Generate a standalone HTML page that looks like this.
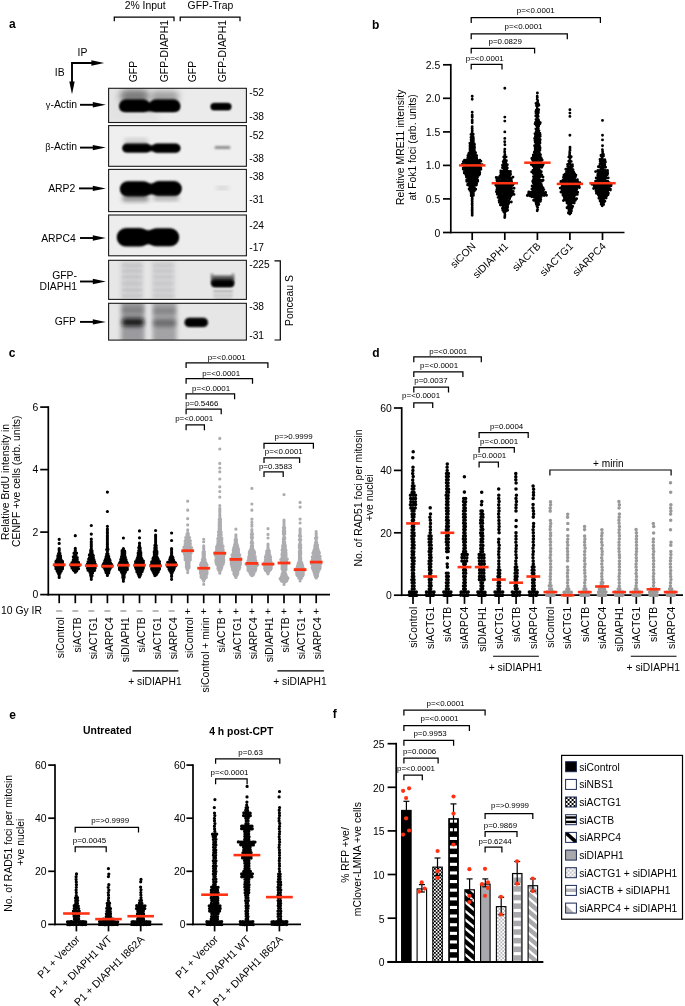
<!DOCTYPE html>
<html lang="en"><head><meta charset="utf-8"><title>Figure</title>
<style>html,body{margin:0;padding:0;background:#fff}svg{display:block}text{font-family:"Liberation Sans", sans-serif;fill:#000}</style>
</head><body>
<svg width="685" height="1006" viewBox="0 0 685 1006">
<defs>
<filter id="b1" x="-20%" y="-50%" width="140%" height="200%"><feGaussianBlur stdDeviation="1.3"/></filter>
<filter id="b2" x="-20%" y="-50%" width="140%" height="200%"><feGaussianBlur stdDeviation="2.2"/></filter>
<filter id="b3" x="-30%" y="-50%" width="160%" height="200%"><feGaussianBlur stdDeviation="3.2"/></filter>
<filter id="b0" x="-20%" y="-50%" width="140%" height="200%"><feGaussianBlur stdDeviation="0.8"/></filter>
<pattern id="chk" width="3.5" height="3.5" patternUnits="userSpaceOnUse"><rect width="3.5" height="3.5" fill="#fff"/><rect width="1.75" height="1.75" fill="#000"/><rect x="1.75" y="1.75" width="1.75" height="1.75" fill="#000"/></pattern>
<pattern id="chkL" width="4" height="4" patternUnits="userSpaceOnUse" x="565.6" y="797"><rect width="4" height="4" fill="#fff"/><rect width="2" height="2" fill="#000"/><rect x="2" y="2" width="2" height="2" fill="#000"/></pattern>
<pattern id="chkgL" width="4" height="4" patternUnits="userSpaceOnUse" x="565.6" y="867.7"><rect width="4" height="4" fill="#fff"/><rect width="2" height="2" fill="#c4c4c8"/><rect x="2" y="2" width="2" height="2" fill="#c4c4c8"/></pattern>
<pattern id="chkg" width="3.5" height="3.5" patternUnits="userSpaceOnUse"><rect width="3.5" height="3.5" fill="#fff"/><rect width="1.75" height="1.75" fill="#b9b9bd"/><rect x="1.75" y="1.75" width="1.75" height="1.75" fill="#b9b9bd"/></pattern>
</defs>
<rect width="685" height="1006" fill="#fff"/>
<text x="9.0" y="28.3" font-size="12" font-weight="bold">a</text>
<text x="145.2" y="9.0" font-size="10.4" text-anchor="middle">2% Input</text>
<text x="210.5" y="9.0" font-size="10.4" text-anchor="middle">GFP-Trap</text>
<path d="M114.3 21.2V17.0H174.0V21.2" stroke="#000" stroke-width="1.25" fill="none" stroke-linejoin="miter"/>
<path d="M180.2 21.2V17.0H240.0V21.2" stroke="#000" stroke-width="1.25" fill="none" stroke-linejoin="miter"/>
<text transform="translate(137.3 82.3) rotate(-90)" font-size="10.4">GFP</text>
<text transform="translate(167.6 82.3) rotate(-90)" font-size="10.4">GFP-DIAPH1</text>
<text transform="translate(195.6 82.3) rotate(-90)" font-size="10.4">GFP</text>
<text transform="translate(225.6 82.3) rotate(-90)" font-size="10.4">GFP-DIAPH1</text>
<text x="77.6" y="55.8" font-size="10.4">IP</text>
<text x="54.8" y="76.1" font-size="10.4">IB</text>
<path d="M72 83V63H93" stroke="#000" stroke-width="1.9" fill="none"/>
<path d="M104.2 63l-12.8-2.7v5.4z" fill="#000"/>
<path d="M72 94.2l-2.7-12.8h5.4z" fill="#000"/>
<text x="77" y="107.8" font-size="10.4" text-anchor="end"><tspan font-size="9.2">γ</tspan>-Actin</text>
<path d="M80 104.8H94" stroke="#000" stroke-width="1.9" fill="none"/>
<path d="M105.8 104.8l-13-2.7v5.4z" fill="#000"/>
<text x="77" y="150.2" font-size="10.4" text-anchor="end"><tspan font-size="9.2">β</tspan>-Actin</text>
<path d="M80 147.6H94" stroke="#000" stroke-width="1.9" fill="none"/>
<path d="M105.8 147.6l-13-2.7v5.4z" fill="#000"/>
<text x="75.3" y="191.8" font-size="10.4" text-anchor="end">ARP2</text>
<path d="M79 188.4H94" stroke="#000" stroke-width="1.9" fill="none"/>
<path d="M105.8 188.4l-13-2.7v5.4z" fill="#000"/>
<text x="75.8" y="241.5" font-size="10.4" text-anchor="end">ARPC4</text>
<path d="M80 238.0H94" stroke="#000" stroke-width="1.9" fill="none"/>
<path d="M105.8 238.0l-13-2.7v5.4z" fill="#000"/>
<path d="M80 281.5H94" stroke="#000" stroke-width="1.9" fill="none"/>
<path d="M105.8 281.5l-13-2.7v5.4z" fill="#000"/>
<text x="76.0" y="325.0" font-size="10.4" text-anchor="end">GFP</text>
<path d="M80 321.9H94" stroke="#000" stroke-width="1.9" fill="none"/>
<path d="M105.8 321.9l-13-2.7v5.4z" fill="#000"/>
<text x="77.0" y="279.0" font-size="10.4" text-anchor="end">GFP-</text>
<text x="77.0" y="290.2" font-size="10.4" text-anchor="end">DIAPH1</text>
<clipPath id="cb0"><rect x="108.6" y="88.3" width="137.8" height="34.2"/></clipPath>
<rect x="108.6" y="88.3" width="137.8" height="34.2" fill="#ebebeb"/>
<g clip-path="url(#cb0)">
<rect x="108.6" y="88.3" width="50" height="34.2" fill="#dcdcdc" opacity=".6" filter="url(#b3)"/>
<rect x="120.0" y="89.5" width="29.0" height="13.0" rx="6.5" fill="#444" opacity="0.65" filter="url(#b3)"/>
<rect x="151.0" y="91.0" width="28.0" height="11.0" rx="5.5" fill="#555" opacity="0.5" filter="url(#b3)"/>
<rect x="119.5" y="99.2" width="30.0" height="12.5" rx="6.2" fill="#050505" opacity="1" filter="url(#b1)"/>
<rect x="149.5" y="99.3" width="30.5" height="12.5" rx="6.2" fill="#050505" opacity="1" filter="url(#b1)"/>
<rect x="119.5" y="102.5" width="60.5" height="9.0" rx="4.5" fill="#050505" opacity="1" filter="url(#b1)"/>
<rect x="211.0" y="103.6" width="20.0" height="6.2" rx="3.1" fill="#050505" opacity="1" filter="url(#b0)"/>
<rect x="211.0" y="103.6" width="20.0" height="6.2" rx="3.1" fill="#050505" opacity="1" filter="url(#b1)"/>
</g>
<rect x="108.6" y="88.3" width="137.8" height="34.2" fill="none" stroke="#1a1a1a" stroke-width="1.1"/>
<clipPath id="cb1"><rect x="108.6" y="125.6" width="137.8" height="40.7"/></clipPath>
<rect x="108.6" y="125.6" width="137.8" height="40.7" fill="#efefef"/>
<g clip-path="url(#cb1)">
<rect x="122.5" y="143.3" width="28.0" height="9.3" rx="4.7" fill="#050505" opacity="1" filter="url(#b1)"/>
<rect x="152.5" y="143.5" width="27.5" height="9.3" rx="4.7" fill="#050505" opacity="1" filter="url(#b1)"/>
<rect x="123.0" y="145.3" width="57.0" height="6.0" rx="3.0" fill="#050505" opacity="1" filter="url(#b1)"/>
<rect x="124.0" y="138.5" width="24.0" height="5.0" rx="2.5" fill="#888" opacity="0.35" filter="url(#b2)"/>
<rect x="214.5" y="146.0" width="16.0" height="3.0" rx="1.5" fill="#777" opacity="0.8" filter="url(#b1)"/>
</g>
<rect x="108.6" y="125.6" width="137.8" height="40.7" fill="none" stroke="#1a1a1a" stroke-width="1.1"/>
<clipPath id="cb2"><rect x="108.6" y="169.4" width="137.8" height="42.2"/></clipPath>
<rect x="108.6" y="169.4" width="137.8" height="42.2" fill="#efefef"/>
<g clip-path="url(#cb2)">
<rect x="120.0" y="181.2" width="31.0" height="15.5" rx="7.8" fill="#050505" opacity="1" filter="url(#b1)"/>
<rect x="151.5" y="181.1" width="30.0" height="15.0" rx="7.5" fill="#050505" opacity="1" filter="url(#b1)"/>
<rect x="121.0" y="183.5" width="60.0" height="11.0" rx="5.5" fill="#050505" opacity="1" filter="url(#b1)"/>
<rect x="122.0" y="195.5" width="27.0" height="6.0" rx="3.0" fill="#333" opacity="0.5" filter="url(#b2)"/>
<rect x="153.0" y="195.5" width="26.0" height="5.0" rx="2.5" fill="#444" opacity="0.4" filter="url(#b2)"/>
<rect x="216.0" y="186.5" width="13.0" height="3.0" rx="1.5" fill="#aaa" opacity="0.5" filter="url(#b2)"/>
</g>
<rect x="108.6" y="169.4" width="137.8" height="42.2" fill="none" stroke="#1a1a1a" stroke-width="1.1"/>
<clipPath id="cb3"><rect x="108.6" y="215" width="137.8" height="40.8"/></clipPath>
<rect x="108.6" y="215" width="137.8" height="40.8" fill="#ededed"/>
<g clip-path="url(#cb3)">
<rect x="117.0" y="228.1" width="32.0" height="18.5" rx="9.2" fill="#050505" opacity="1" filter="url(#b1)"/>
<rect x="147.5" y="228.3" width="31.5" height="18.0" rx="9.0" fill="#050505" opacity="1" filter="url(#b1)"/>
<rect x="118.0" y="230.3" width="60.0" height="14.0" rx="7.0" fill="#050505" opacity="1" filter="url(#b1)"/>
</g>
<rect x="108.6" y="215" width="137.8" height="40.8" fill="none" stroke="#1a1a1a" stroke-width="1.1"/>
<clipPath id="cb4"><rect x="108.6" y="260.3" width="137.8" height="39.1"/></clipPath>
<rect x="108.6" y="260.3" width="137.8" height="39.1" fill="#e7e7e7"/>
<g clip-path="url(#cb4)">
<rect x="121" y="260.3" width="22" height="39.1" fill="#c9c9cc" opacity=".8" filter="url(#b2)"/>
<rect x="152" y="260.3" width="22.5" height="39.1" fill="#cbcbce" opacity=".8" filter="url(#b2)"/>
<rect x="122.0" y="264.6" width="20.5" height="1.8" rx="0.9" fill="#b4b4b8" opacity="0.45" filter="url(#b1)"/>
<rect x="153.0" y="264.6" width="21.0" height="1.8" rx="0.9" fill="#b8b8bc" opacity="0.4" filter="url(#b1)"/>
<rect x="122.0" y="270.1" width="20.5" height="1.8" rx="0.9" fill="#b4b4b8" opacity="0.45" filter="url(#b1)"/>
<rect x="153.0" y="270.1" width="21.0" height="1.8" rx="0.9" fill="#b8b8bc" opacity="0.4" filter="url(#b1)"/>
<rect x="122.0" y="276.1" width="20.5" height="1.8" rx="0.9" fill="#b4b4b8" opacity="0.45" filter="url(#b1)"/>
<rect x="153.0" y="276.1" width="21.0" height="1.8" rx="0.9" fill="#b8b8bc" opacity="0.4" filter="url(#b1)"/>
<rect x="122.0" y="282.6" width="20.5" height="1.8" rx="0.9" fill="#b4b4b8" opacity="0.45" filter="url(#b1)"/>
<rect x="153.0" y="282.6" width="21.0" height="1.8" rx="0.9" fill="#b8b8bc" opacity="0.4" filter="url(#b1)"/>
<rect x="122.0" y="289.1" width="20.5" height="1.8" rx="0.9" fill="#b4b4b8" opacity="0.45" filter="url(#b1)"/>
<rect x="153.0" y="289.1" width="21.0" height="1.8" rx="0.9" fill="#b8b8bc" opacity="0.4" filter="url(#b1)"/>
<rect x="122.0" y="295.1" width="20.5" height="1.8" rx="0.9" fill="#b4b4b8" opacity="0.45" filter="url(#b1)"/>
<rect x="153.0" y="295.1" width="21.0" height="1.8" rx="0.9" fill="#b8b8bc" opacity="0.4" filter="url(#b1)"/>
<rect x="211.0" y="275.5" width="23.3" height="9.0" rx="3.0" fill="#4a4a4a" opacity="0.9" filter="url(#b1)"/>
<rect x="211.3" y="279.6" width="22.7" height="7.5" rx="3.8" fill="#0a0a0a" opacity="1" filter="url(#b1)"/>
<rect x="212.0" y="281.5" width="21.5" height="5.0" rx="2.5" fill="#000" opacity="1" filter="url(#b1)"/>
<rect x="210.5" y="273.0" width="3.0" height="5.0" rx="2.5" fill="#666" opacity="0.6" filter="url(#b1)"/>
<rect x="231.5" y="273.0" width="3.0" height="5.0" rx="2.5" fill="#666" opacity="0.6" filter="url(#b1)"/>
<rect x="213.0" y="290.3" width="20.0" height="2.0" rx="1.0" fill="#9a9a9a" opacity="0.8" filter="url(#b0)"/>
<rect x="213.0" y="294.3" width="20.0" height="2.0" rx="1.0" fill="#b0b0b0" opacity="0.8" filter="url(#b0)"/>
<rect x="214.0" y="297.5" width="18.0" height="2.0" rx="1.0" fill="#bbb" opacity="0.8" filter="url(#b0)"/>
</g>
<rect x="108.6" y="260.3" width="137.8" height="39.1" fill="none" stroke="#1a1a1a" stroke-width="1.1"/>
<clipPath id="cb5"><rect x="108.6" y="303.3" width="137.8" height="36.8"/></clipPath>
<rect x="108.6" y="303.3" width="137.8" height="36.8" fill="#e6e6e6"/>
<g clip-path="url(#cb5)">
<rect x="121" y="300.3" width="23.5" height="42.8" fill="#8e8e92" opacity=".85" filter="url(#b2)"/>
<rect x="152.5" y="300.3" width="24" height="42.8" fill="#97979b" opacity=".85" filter="url(#b2)"/>
<rect x="122.0" y="318.3" width="22.0" height="8.0" rx="4.0" fill="#111" opacity="0.9" filter="url(#b2)"/>
<rect x="153.0" y="319.5" width="23.0" height="7.0" rx="3.5" fill="#444" opacity="0.6" filter="url(#b2)"/>
<rect x="153.0" y="308.0" width="23.0" height="6.0" rx="3.0" fill="#555" opacity="0.4" filter="url(#b2)"/>
<rect x="122.0" y="307.0" width="22.0" height="6.0" rx="3.0" fill="#555" opacity="0.4" filter="url(#b2)"/>
<rect x="184.5" y="317.8" width="23.5" height="9.2" rx="4.6" fill="#0a0a0a" opacity="1" filter="url(#b1)"/>
<rect x="186.0" y="319.6" width="20.5" height="6.0" rx="3.0" fill="#000" opacity="1" filter="url(#b1)"/>
</g>
<rect x="108.6" y="303.3" width="137.8" height="36.8" fill="none" stroke="#1a1a1a" stroke-width="1.1"/>
<text x="249.3" y="96.3" font-size="10.2">-52</text>
<text x="249.3" y="119.5" font-size="10.2">-38</text>
<text x="249.3" y="138.5" font-size="10.2">-52</text>
<text x="249.3" y="161.7" font-size="10.2">-38</text>
<text x="249.3" y="179.7" font-size="10.2">-38</text>
<text x="249.3" y="203.0" font-size="10.2">-31</text>
<text x="249.3" y="228.5" font-size="10.2">-24</text>
<text x="249.3" y="251.3" font-size="10.2">-17</text>
<text x="249.3" y="267.7" font-size="10.2">-225</text>
<text x="249.3" y="309.7" font-size="10.2">-38</text>
<text x="249.3" y="339.1" font-size="10.2">-31</text>
<path d="M274.5 260.8H280.3V340H274.5" stroke="#000" stroke-width="1.2" fill="none"/>
<text transform="translate(293.4 300.5) rotate(-90)" font-size="10.4" text-anchor="middle">Ponceau S</text>
<text x="372.0" y="28.6" font-size="12" font-weight="bold">b</text>
<path d="M450.8 63.9L450.8 233.3" stroke="#000" stroke-width="1.7" stroke-linecap="butt" fill="none"/>
<path d="M443.0 232.5L450.8 232.5" stroke="#000" stroke-width="1.7" stroke-linecap="butt" fill="none"/>
<text x="440.3" y="236.5" font-size="10.4" text-anchor="end">0</text>
<path d="M443.0 198.9L450.8 198.9" stroke="#000" stroke-width="1.7" stroke-linecap="butt" fill="none"/>
<text x="440.3" y="202.9" font-size="10.4" text-anchor="end">0.5</text>
<path d="M443.0 165.4L450.8 165.4" stroke="#000" stroke-width="1.7" stroke-linecap="butt" fill="none"/>
<text x="440.3" y="169.4" font-size="10.4" text-anchor="end">1.0</text>
<path d="M443.0 131.9L450.8 131.9" stroke="#000" stroke-width="1.7" stroke-linecap="butt" fill="none"/>
<text x="440.3" y="135.9" font-size="10.4" text-anchor="end">1.5</text>
<path d="M443.0 98.3L450.8 98.3" stroke="#000" stroke-width="1.7" stroke-linecap="butt" fill="none"/>
<text x="440.3" y="102.3" font-size="10.4" text-anchor="end">2.0</text>
<path d="M443.0 64.8L450.8 64.8" stroke="#000" stroke-width="1.7" stroke-linecap="butt" fill="none"/>
<text x="440.3" y="68.8" font-size="10.4" text-anchor="end">2.5</text>
<path d="M450.1 232.5L624.5 232.5" stroke="#000" stroke-width="1.7" stroke-linecap="butt" fill="none"/>
<path d="M472.2 232.5L472.2 240.0" stroke="#000" stroke-width="1.7" stroke-linecap="butt" fill="none"/>
<path d="M504.8 232.5L504.8 240.0" stroke="#000" stroke-width="1.7" stroke-linecap="butt" fill="none"/>
<path d="M537.4 232.5L537.4 240.0" stroke="#000" stroke-width="1.7" stroke-linecap="butt" fill="none"/>
<path d="M569.9 232.5L569.9 240.0" stroke="#000" stroke-width="1.7" stroke-linecap="butt" fill="none"/>
<path d="M602.5 232.5L602.5 240.0" stroke="#000" stroke-width="1.7" stroke-linecap="butt" fill="none"/>
<text transform="translate(403.8 147.3) rotate(-90)" font-size="10.4" text-anchor="middle">Relative MRE11 intensity</text>
<text transform="translate(415.8 147.3) rotate(-90)" font-size="10.4" text-anchor="middle">at Fok1 foci (arb. units)</text>
<text transform="translate(476.2 246.9) rotate(-45)" font-size="10.4" text-anchor="end">siCON</text>
<text transform="translate(508.8 246.9) rotate(-45)" font-size="10.4" text-anchor="end">siDIAPH1</text>
<text transform="translate(541.4 246.9) rotate(-45)" font-size="10.4" text-anchor="end">siACTB</text>
<text transform="translate(573.9 246.9) rotate(-45)" font-size="10.4" text-anchor="end">siACTG1</text>
<text transform="translate(606.5 246.9) rotate(-45)" font-size="10.4" text-anchor="end">siARPC4</text>
<path d="M472.2 215.2h0M472.2 213.6h0M472.2 212.0h0M472.1 210.8h0M472.2 209.5h0M472.2 209.0h0M472.2 207.7h0M472.2 205.6h0M472.1 204.5h0M472.2 203.5h0M472.2 202.1h0M472.1 200.9h0M472.2 199.3h0M472.2 198.4h0M472.2 196.6h0M471.2 195.8h0M473.4 195.4h0M471.2 193.9h0M473.4 194.2h0M471.1 192.5h0M473.3 193.1h0M471.2 191.7h0M473.4 192.0h0M470.0 190.4h0M472.2 190.3h0M474.4 190.7h0M469.1 189.0h0M471.3 189.2h0M473.5 188.7h0M475.7 189.2h0M470.1 187.6h0M472.3 187.7h0M474.5 187.9h0M469.8 186.4h0M472.0 186.2h0M474.2 186.1h0M467.6 184.9h0M469.8 185.1h0M472.0 185.5h0M474.2 184.8h0M476.4 185.1h0M467.8 184.2h0M470.0 184.1h0M472.2 184.2h0M474.4 183.7h0M476.6 183.8h0M469.2 182.2h0M471.4 182.3h0M473.6 182.3h0M475.8 182.3h0M466.7 181.3h0M468.9 181.0h0M471.1 180.8h0M473.3 181.2h0M475.5 181.1h0M477.7 181.3h0M466.7 180.1h0M468.9 180.1h0M471.1 179.6h0M473.3 180.3h0M475.5 180.2h0M477.7 180.3h0M468.0 178.6h0M470.2 178.6h0M472.4 178.3h0M474.6 178.8h0M476.8 178.3h0M466.5 177.2h0M468.7 177.0h0M470.9 176.9h0M473.1 177.0h0M475.3 177.0h0M477.5 177.2h0M466.4 176.4h0M468.6 176.2h0M470.8 175.7h0M473.0 175.8h0M475.2 175.9h0M477.4 175.9h0M465.9 174.7h0M468.1 174.7h0M470.3 174.4h0M472.5 174.4h0M474.7 174.6h0M476.9 174.5h0M479.1 175.0h0M464.3 173.0h0M466.5 173.9h0M468.7 173.5h0M470.9 173.1h0M473.1 173.5h0M475.3 173.0h0M477.5 173.5h0M479.7 173.9h0M464.4 172.0h0M466.6 171.9h0M468.8 172.4h0M471.0 172.2h0M473.2 172.4h0M475.4 172.0h0M477.6 171.9h0M479.8 172.4h0M465.9 171.2h0M468.1 171.1h0M470.3 171.1h0M472.5 171.1h0M474.7 170.6h0M476.9 170.9h0M479.1 170.7h0M463.3 169.3h0M465.5 169.7h0M467.7 170.0h0M469.9 169.5h0M472.1 169.9h0M474.3 170.0h0M476.5 170.0h0M478.7 169.4h0M480.9 169.3h0M463.2 168.0h0M465.4 168.0h0M467.6 168.4h0M469.8 168.6h0M472.0 168.6h0M474.2 168.2h0M476.4 168.4h0M478.6 168.5h0M480.8 167.9h0M464.7 167.2h0M466.9 166.9h0M469.1 166.7h0M471.3 167.2h0M473.5 166.8h0M475.7 167.2h0M477.9 167.4h0M480.1 166.9h0M464.4 166.1h0M466.6 165.9h0M468.8 165.4h0M471.0 165.3h0M473.2 165.3h0M475.4 166.0h0M477.6 165.9h0M479.8 165.3h0M462.4 164.2h0M464.6 164.4h0M466.8 164.0h0M469.0 163.9h0M471.2 164.8h0M473.4 164.5h0M475.6 164.4h0M477.8 164.7h0M480.0 164.3h0M482.2 164.7h0M465.8 162.8h0M468.0 162.8h0M470.2 162.9h0M472.4 162.8h0M474.6 163.1h0M476.8 162.8h0M479.0 163.0h0M463.3 161.7h0M465.5 161.8h0M467.7 162.1h0M469.9 161.7h0M472.1 162.1h0M474.3 161.8h0M476.5 161.8h0M478.7 161.8h0M480.9 161.3h0M464.5 160.2h0M466.7 160.0h0M468.9 160.7h0M471.1 160.2h0M473.3 160.4h0M475.5 160.7h0M477.7 160.5h0M479.9 160.3h0M468.0 158.8h0M470.2 159.2h0M472.4 158.9h0M474.6 159.0h0M476.8 159.4h0M467.8 157.9h0M470.0 158.1h0M472.2 158.2h0M474.4 157.8h0M476.6 158.0h0M469.0 156.5h0M471.2 156.6h0M473.4 156.5h0M475.6 157.0h0M467.9 155.6h0M470.1 155.7h0M472.3 155.0h0M474.5 155.3h0M476.7 155.7h0M468.7 153.9h0M470.9 153.6h0M473.1 153.7h0M475.3 153.6h0M469.0 152.9h0M471.2 153.0h0M473.4 152.3h0M475.6 152.8h0M470.2 151.8h0M472.4 151.1h0M474.6 151.8h0M470.0 150.0h0M472.2 150.5h0M474.4 150.4h0M470.0 148.6h0M472.2 148.5h0M474.4 148.6h0M470.1 147.0h0M472.3 147.5h0M474.5 147.4h0M470.0 146.2h0M472.2 145.8h0M474.4 146.6h0M470.1 145.3h0M472.3 144.5h0M474.5 144.6h0M469.9 143.2h0M472.1 143.5h0M474.3 143.9h0M471.2 142.0h0M473.4 141.9h0M471.2 140.6h0M473.4 140.6h0M471.1 139.6h0M473.3 139.3h0M471.2 138.0h0M473.4 138.7h0M471.0 137.4h0M473.2 137.0h0M472.3 135.5h0M471.0 134.5h0M473.2 134.2h0M472.1 132.9h0M472.2 131.7h0M472.2 130.6h0M472.2 128.8h0M472.1 128.2h0M472.2 126.6h0M472.2 122.7h0M472.2 121.9h0M472.2 120.3h0M472.2 117.2h0M472.2 116.0h0M472.2 115.3h0M472.2 112.2h0M472.2 99.3h0M472.2 96.3h0" stroke="#000" stroke-width="2.9" stroke-linecap="round" fill="none"/>
<path d="M504.7 217.6h0M504.8 216.2h0M504.9 215.0h0M504.7 212.9h0M503.8 211.7h0M506.2 211.1h0M502.8 210.3h0M505.2 210.1h0M507.6 210.2h0M502.4 208.4h0M504.8 208.7h0M507.2 208.7h0M502.9 207.0h0M505.3 207.2h0M507.7 207.1h0M500.4 205.0h0M502.8 205.2h0M505.2 205.0h0M507.6 205.6h0M501.3 203.9h0M503.7 203.9h0M506.1 204.0h0M508.5 203.8h0M499.3 202.2h0M501.7 202.3h0M504.1 202.4h0M506.5 201.8h0M508.9 202.5h0M511.3 202.0h0M499.1 200.5h0M501.5 200.9h0M503.9 200.4h0M506.3 200.9h0M508.7 201.1h0M500.0 199.3h0M502.4 199.4h0M504.8 199.2h0M507.2 199.3h0M509.6 198.8h0M498.1 197.4h0M500.5 197.8h0M502.9 197.4h0M505.3 197.6h0M507.7 197.1h0M510.1 197.2h0M499.2 196.2h0M501.6 195.8h0M504.0 196.1h0M506.4 196.0h0M508.8 196.0h0M511.2 195.7h0M497.2 194.2h0M499.6 194.9h0M502.0 194.9h0M504.4 194.1h0M506.8 194.5h0M509.2 194.8h0M511.6 194.9h0M514.0 194.4h0M498.5 192.7h0M500.9 193.0h0M503.3 192.6h0M505.7 193.0h0M508.1 193.3h0M510.5 192.6h0M512.9 193.2h0M496.4 191.7h0M498.8 191.6h0M501.2 191.1h0M503.6 191.7h0M506.0 191.4h0M508.4 191.0h0M510.8 190.9h0M513.2 191.4h0M496.9 189.7h0M499.3 189.7h0M501.7 190.1h0M504.1 189.4h0M506.5 190.1h0M508.9 190.1h0M511.3 189.5h0M497.3 188.5h0M499.7 188.6h0M502.1 188.1h0M504.5 188.2h0M506.9 188.2h0M509.3 188.7h0M511.7 188.4h0M514.1 188.2h0M496.7 186.4h0M499.1 187.0h0M501.5 186.5h0M503.9 187.1h0M506.3 186.5h0M508.7 186.5h0M511.1 186.7h0M495.8 185.1h0M498.2 185.6h0M500.6 185.5h0M503.0 185.5h0M505.4 185.3h0M507.8 185.6h0M510.2 185.6h0M512.6 185.2h0M496.9 183.6h0M499.3 183.9h0M501.7 183.8h0M504.1 183.4h0M506.5 183.2h0M508.9 184.0h0M511.3 183.3h0M513.7 183.6h0M497.3 181.9h0M499.7 182.3h0M502.1 182.5h0M504.5 181.9h0M506.9 182.2h0M509.3 181.9h0M511.7 182.1h0M496.9 180.3h0M499.3 180.9h0M501.7 180.5h0M504.1 180.3h0M506.5 180.9h0M508.9 181.0h0M511.3 180.5h0M496.9 178.7h0M499.3 178.6h0M501.7 178.8h0M504.1 178.6h0M506.5 178.8h0M508.9 178.8h0M511.3 179.1h0M496.2 177.4h0M498.6 177.5h0M501.0 177.3h0M503.4 177.3h0M505.8 177.0h0M508.2 177.2h0M510.6 177.9h0M513.0 177.1h0M500.0 176.0h0M502.4 176.2h0M504.8 175.6h0M507.2 175.7h0M509.6 175.7h0M500.9 174.7h0M503.3 174.7h0M505.7 173.9h0M508.1 173.9h0M510.5 174.5h0M500.8 172.8h0M503.2 172.9h0M505.6 172.3h0M508.0 172.7h0M510.4 173.2h0M500.8 171.0h0M503.2 170.9h0M505.6 170.9h0M508.0 171.3h0M510.4 171.4h0M504.3 169.9h0M506.7 169.8h0M502.5 167.7h0M504.9 168.4h0M507.3 167.9h0M504.1 166.7h0M506.5 166.4h0M502.5 165.2h0M504.9 164.7h0M507.3 164.7h0M503.6 163.6h0M506.0 163.4h0M503.2 161.8h0M505.6 161.9h0M504.0 160.5h0M506.4 160.7h0M504.6 159.3h0M503.7 157.1h0M506.1 156.9h0M504.7 155.5h0M504.9 154.6h0M504.7 152.6h0M504.7 151.4h0M504.8 149.3h0M504.9 144.7h0M504.7 141.7h0M504.8 138.4h0M504.8 88.2h0M504.8 117.1h0M504.8 121.1h0M504.8 131.9h0" stroke="#000" stroke-width="2.9" stroke-linecap="round" fill="none"/>
<path d="M537.2 210.7h0M537.6 209.6h0M537.7 207.6h0M537.1 206.6h0M536.4 204.5h0M538.8 204.5h0M536.0 202.8h0M538.4 202.6h0M535.6 201.2h0M538.0 201.9h0M540.4 201.3h0M533.6 200.3h0M536.0 200.3h0M538.4 199.9h0M540.8 199.6h0M535.7 198.1h0M538.1 198.3h0M540.5 198.8h0M531.7 196.8h0M534.1 197.2h0M536.5 197.1h0M538.9 196.5h0M541.3 196.5h0M527.3 195.5h0M529.7 195.7h0M532.1 195.2h0M534.5 195.1h0M536.9 195.7h0M539.3 195.4h0M541.7 195.1h0M544.1 195.5h0M546.5 195.2h0M528.6 193.3h0M531.0 194.0h0M533.4 194.1h0M535.8 193.9h0M538.2 194.2h0M540.6 193.3h0M543.0 193.5h0M545.4 193.7h0M528.8 192.0h0M531.2 192.2h0M533.6 192.2h0M536.0 192.6h0M538.4 191.9h0M540.8 192.5h0M543.2 192.4h0M545.6 192.5h0M533.1 190.8h0M535.5 190.5h0M537.9 190.5h0M540.3 190.5h0M542.7 190.9h0M531.9 188.9h0M534.3 188.7h0M536.7 188.7h0M539.1 189.2h0M541.5 189.0h0M543.9 189.6h0M533.4 188.0h0M535.8 187.4h0M538.2 187.2h0M540.6 187.2h0M543.0 187.6h0M532.1 185.9h0M534.5 186.1h0M536.9 186.2h0M539.3 186.2h0M541.7 186.3h0M534.1 184.1h0M536.5 184.8h0M538.9 184.3h0M541.3 184.5h0M533.2 182.7h0M535.6 182.7h0M538.0 182.6h0M540.4 183.3h0M532.7 181.2h0M535.1 181.3h0M537.5 181.8h0M539.9 181.4h0M542.3 181.1h0M533.5 179.5h0M535.9 179.8h0M538.3 180.1h0M540.7 180.1h0M543.1 180.2h0M534.2 178.1h0M536.6 177.9h0M539.0 178.0h0M533.4 176.6h0M535.8 177.0h0M538.2 176.7h0M540.6 176.5h0M543.0 177.0h0M534.6 174.8h0M537.0 175.3h0M539.4 175.3h0M541.8 174.9h0M533.3 173.4h0M535.7 173.7h0M538.1 173.8h0M540.5 173.4h0M531.7 171.9h0M534.1 172.2h0M536.5 171.8h0M538.9 171.9h0M541.3 171.8h0M533.0 170.2h0M535.4 170.4h0M537.8 170.6h0M540.2 170.6h0M534.3 168.7h0M536.7 169.1h0M539.1 168.9h0M534.6 167.3h0M537.0 167.5h0M539.4 167.3h0M541.8 167.3h0M533.2 166.3h0M535.6 165.7h0M538.0 165.6h0M540.4 166.1h0M542.8 165.6h0M531.3 164.6h0M533.7 164.2h0M536.1 164.7h0M538.5 164.3h0M540.9 164.0h0M543.3 163.9h0M533.9 162.9h0M536.3 163.1h0M538.7 162.4h0M541.1 162.9h0M533.2 161.0h0M535.6 161.2h0M538.0 161.6h0M540.4 160.9h0M532.6 159.9h0M535.0 160.1h0M537.4 159.4h0M539.8 159.3h0M542.2 160.1h0M531.8 158.5h0M534.2 158.0h0M536.6 158.5h0M539.0 158.2h0M541.4 158.4h0M533.2 156.8h0M535.6 156.3h0M538.0 156.5h0M540.4 156.9h0M533.3 154.9h0M535.7 155.0h0M538.1 154.9h0M540.5 154.7h0M534.6 153.7h0M537.0 153.8h0M539.4 153.1h0M534.3 152.2h0M536.7 151.6h0M539.1 152.0h0M535.1 150.5h0M537.5 150.2h0M539.9 150.3h0M535.2 148.8h0M537.6 148.8h0M540.0 148.4h0M535.2 147.3h0M537.6 147.0h0M540.0 147.5h0M534.6 145.7h0M537.0 145.4h0M539.4 145.4h0M536.1 143.8h0M538.5 144.1h0M535.2 142.2h0M537.6 142.8h0M540.0 142.9h0M535.0 140.7h0M537.4 141.1h0M539.8 141.0h0M535.4 140.0h0M537.8 139.7h0M540.2 139.8h0M534.6 138.4h0M537.0 138.0h0M539.4 138.4h0M535.4 136.8h0M537.8 136.0h0M540.2 136.3h0M535.3 134.6h0M537.7 135.2h0M540.1 134.7h0M535.0 133.7h0M537.4 133.1h0M539.8 133.1h0M536.2 131.6h0M538.6 131.4h0M536.6 130.4h0M539.0 130.6h0M535.9 128.9h0M538.3 128.3h0M537.3 127.5h0M536.3 125.6h0M538.7 125.9h0M535.1 123.9h0M537.5 124.3h0M539.9 123.8h0M535.5 122.5h0M537.9 122.3h0M540.3 122.7h0M536.4 120.5h0M538.8 121.2h0M536.0 119.5h0M538.4 119.8h0M537.2 117.4h0M535.8 116.0h0M538.2 116.4h0M537.7 114.4h0M536.0 113.3h0M538.4 112.7h0M535.9 111.5h0M538.3 111.4h0M536.3 110.2h0M538.7 109.8h0M537.1 108.9h0M537.2 106.7h0M536.5 105.7h0M538.9 105.3h0M536.0 103.4h0M538.4 104.0h0M537.5 102.3h0M537.7 101.0h0M537.2 99.2h0M537.3 97.3h0M537.2 96.2h0M537.4 93.0h0" stroke="#000" stroke-width="2.9" stroke-linecap="round" fill="none"/>
<path d="M569.8 214.0h0M568.4 213.0h0M570.8 212.9h0M569.0 211.3h0M571.4 211.0h0M568.9 209.5h0M571.3 209.3h0M567.0 207.8h0M569.4 208.2h0M571.8 208.2h0M567.9 206.6h0M570.3 206.2h0M572.7 206.5h0M568.7 204.7h0M571.1 205.0h0M567.0 203.1h0M569.4 203.7h0M571.8 202.9h0M574.2 203.1h0M567.1 202.0h0M569.5 201.6h0M571.9 202.1h0M574.3 201.6h0M563.4 200.6h0M565.8 200.3h0M568.2 200.4h0M570.6 200.4h0M573.0 200.7h0M575.4 200.2h0M564.6 198.6h0M567.0 198.9h0M569.4 198.7h0M571.8 198.5h0M574.2 198.4h0M576.6 198.8h0M564.3 197.5h0M566.7 196.8h0M569.1 196.7h0M571.5 196.8h0M573.9 197.5h0M563.0 195.2h0M565.4 195.7h0M567.8 195.7h0M570.2 195.8h0M572.6 195.8h0M575.0 195.2h0M562.9 193.9h0M565.3 194.3h0M567.7 194.3h0M570.1 194.4h0M572.5 193.6h0M574.9 194.4h0M577.3 194.4h0M560.9 192.1h0M563.3 192.1h0M565.7 192.8h0M568.1 192.8h0M570.5 192.6h0M572.9 192.8h0M575.3 192.6h0M577.7 192.3h0M561.9 190.6h0M564.3 191.2h0M566.7 190.7h0M569.1 190.8h0M571.5 190.9h0M573.9 190.5h0M576.3 190.7h0M562.4 189.2h0M564.8 189.8h0M567.2 189.4h0M569.6 189.7h0M572.0 189.5h0M574.4 189.0h0M576.8 189.3h0M560.2 188.1h0M562.6 187.7h0M565.0 188.0h0M567.4 187.9h0M569.8 187.6h0M572.2 188.2h0M574.6 187.5h0M577.0 188.1h0M579.4 187.5h0M562.0 186.7h0M564.4 185.8h0M566.8 186.3h0M569.2 186.3h0M571.6 186.5h0M574.0 186.0h0M576.4 186.3h0M578.8 186.1h0M562.2 184.5h0M564.6 185.1h0M567.0 184.5h0M569.4 184.5h0M571.8 184.9h0M574.2 184.7h0M576.6 184.4h0M579.0 184.8h0M560.7 183.4h0M563.1 183.3h0M565.5 183.0h0M567.9 183.1h0M570.3 183.1h0M572.7 183.5h0M575.1 182.8h0M577.5 183.5h0M579.9 182.7h0M560.9 181.4h0M563.3 182.0h0M565.7 181.6h0M568.1 181.5h0M570.5 182.0h0M572.9 181.4h0M575.3 181.6h0M577.7 181.7h0M563.0 179.9h0M565.4 179.9h0M567.8 179.8h0M570.2 180.4h0M572.6 180.2h0M575.0 180.3h0M577.4 179.8h0M565.0 178.8h0M567.4 178.6h0M569.8 178.2h0M572.2 178.5h0M574.6 178.9h0M563.5 177.2h0M565.9 177.3h0M568.3 176.7h0M570.7 176.7h0M573.1 176.7h0M575.5 176.8h0M563.9 175.1h0M566.3 175.3h0M568.7 175.1h0M571.1 175.9h0M573.5 175.6h0M575.9 175.1h0M564.9 174.3h0M567.3 174.1h0M569.7 174.1h0M572.1 173.8h0M574.5 173.6h0M566.5 172.0h0M568.9 172.1h0M571.3 172.2h0M573.7 171.9h0M567.8 170.8h0M570.2 170.9h0M572.6 170.7h0M565.8 169.3h0M568.2 169.1h0M570.6 169.4h0M573.0 169.6h0M569.0 167.6h0M571.4 167.4h0M567.7 166.5h0M570.1 166.4h0M572.5 166.3h0M567.6 164.5h0M570.0 164.4h0M572.4 164.7h0M569.5 163.0h0M568.8 161.3h0M571.2 161.4h0M569.9 160.0h0M570.2 158.1h0M568.8 157.1h0M571.2 156.7h0M569.6 155.3h0M569.7 154.0h0M569.7 152.2h0M570.0 150.6h0M570.0 149.1h0M570.0 147.3h0M569.9 109.7h0M569.9 113.1h0M569.9 116.4h0M569.9 135.2h0" stroke="#000" stroke-width="2.9" stroke-linecap="round" fill="none"/>
<path d="M602.2 205.7h0M601.2 204.3h0M603.6 204.5h0M601.2 202.6h0M603.6 202.6h0M600.1 201.0h0M602.5 201.5h0M604.9 201.2h0M600.9 199.4h0M603.3 200.0h0M598.9 198.2h0M601.3 197.9h0M603.7 198.6h0M606.1 198.0h0M599.2 196.9h0M601.6 196.9h0M604.0 196.6h0M606.4 196.4h0M598.4 194.9h0M600.8 195.4h0M603.2 194.9h0M605.6 195.0h0M608.0 194.8h0M596.4 193.2h0M598.8 193.1h0M601.2 193.7h0M603.6 193.3h0M606.0 193.3h0M608.4 193.3h0M598.0 192.1h0M600.4 191.8h0M602.8 192.4h0M605.2 192.3h0M607.6 191.6h0M596.0 190.8h0M598.4 190.7h0M600.8 190.1h0M603.2 190.7h0M605.6 190.5h0M608.0 190.0h0M610.4 190.0h0M593.6 188.5h0M596.0 188.5h0M598.4 188.6h0M600.8 189.1h0M603.2 188.7h0M605.6 188.6h0M608.0 189.2h0M610.4 189.1h0M594.6 187.7h0M597.0 187.4h0M599.4 187.6h0M601.8 187.5h0M604.2 187.7h0M606.6 187.6h0M609.0 187.6h0M594.2 186.0h0M596.6 185.7h0M599.0 186.1h0M601.4 185.8h0M603.8 185.6h0M606.2 185.5h0M608.6 185.4h0M611.0 185.8h0M592.0 184.2h0M594.4 183.9h0M596.8 184.2h0M599.2 184.2h0M601.6 184.3h0M604.0 184.5h0M606.4 183.8h0M608.8 184.5h0M611.2 184.2h0M597.2 182.6h0M599.6 182.6h0M602.0 183.1h0M604.4 182.3h0M606.8 182.8h0M609.2 182.8h0M595.6 181.2h0M598.0 181.3h0M600.4 181.5h0M602.8 181.0h0M605.2 181.5h0M607.6 181.1h0M598.0 179.8h0M600.4 179.7h0M602.8 179.4h0M605.2 179.9h0M596.2 178.0h0M598.6 178.0h0M601.0 178.3h0M603.4 177.8h0M605.8 178.0h0M608.2 177.9h0M598.5 176.8h0M600.9 176.4h0M603.3 176.5h0M605.7 176.3h0M597.7 175.3h0M600.1 175.1h0M602.5 175.2h0M604.9 174.8h0M607.3 174.8h0M598.0 173.6h0M600.4 173.0h0M602.8 173.6h0M605.2 173.7h0M607.6 173.4h0M595.6 171.6h0M598.0 171.4h0M600.4 171.5h0M602.8 172.2h0M605.2 171.9h0M607.6 172.0h0M597.9 170.4h0M600.3 170.4h0M602.7 170.4h0M605.1 170.4h0M607.5 170.4h0M600.8 168.9h0M603.2 168.7h0M598.4 166.7h0M600.8 167.4h0M603.2 167.5h0M605.6 167.3h0M599.9 165.9h0M602.3 165.9h0M604.7 165.7h0M600.0 163.9h0M602.4 164.0h0M604.8 164.2h0M600.6 162.1h0M603.0 162.6h0M605.4 162.1h0M600.2 161.3h0M602.6 160.9h0M605.0 160.5h0M600.0 159.5h0M602.4 159.8h0M604.8 159.8h0M602.2 158.0h0M601.1 156.0h0M603.5 155.9h0M601.0 155.2h0M603.4 154.4h0M602.7 152.9h0M602.6 151.4h0M602.4 149.7h0M602.5 145.7h0M602.5 120.4h0M602.5 135.2h0M602.5 139.9h0" stroke="#000" stroke-width="2.9" stroke-linecap="round" fill="none"/>
<path d="M459.0 165.4H485.4" stroke="#ff3314" stroke-width="2.5" fill="none"/>
<path d="M491.6 183.2H518.0" stroke="#ff3314" stroke-width="2.5" fill="none"/>
<path d="M524.2 162.7H550.6" stroke="#ff3314" stroke-width="2.5" fill="none"/>
<path d="M556.7 183.9H583.1" stroke="#ff3314" stroke-width="2.5" fill="none"/>
<path d="M589.3 183.2H615.7" stroke="#ff3314" stroke-width="2.5" fill="none"/>
<path d="M471.2 22.9V17.6H600.4V22.9" stroke="#000" stroke-width="1.25" fill="none" stroke-linejoin="miter"/>
<text x="535.8" y="13.0" font-size="7.95" text-anchor="middle">p=&lt;0.0001</text>
<path d="M471.2 39.2V33.9H567.3V39.2" stroke="#000" stroke-width="1.25" fill="none" stroke-linejoin="miter"/>
<text x="523.5" y="29.4" font-size="7.95" text-anchor="middle">p=&lt;0.0001</text>
<path d="M471.2 53.6V48.3H534.6V53.6" stroke="#000" stroke-width="1.25" fill="none" stroke-linejoin="miter"/>
<text x="505.2" y="44.0" font-size="7.95" text-anchor="middle">p=0.0829</text>
<path d="M471.2 69.6V64.3H502.0V69.6" stroke="#000" stroke-width="1.25" fill="none" stroke-linejoin="miter"/>
<text x="484.8" y="60.8" font-size="7.95" text-anchor="middle">p=&lt;0.0001</text>
<text x="8.8" y="356.6" font-size="12" font-weight="bold">c</text>
<path d="M48.3 406.2L48.3 595.5" stroke="#000" stroke-width="1.7" stroke-linecap="butt" fill="none"/>
<path d="M40.2 594.6L48.3 594.6" stroke="#000" stroke-width="1.7" stroke-linecap="butt" fill="none"/>
<text x="38.4" y="598.1" font-size="10.4" text-anchor="end">0</text>
<path d="M40.2 532.1L48.3 532.1" stroke="#000" stroke-width="1.7" stroke-linecap="butt" fill="none"/>
<text x="38.4" y="535.6" font-size="10.4" text-anchor="end">2</text>
<path d="M40.2 469.6L48.3 469.6" stroke="#000" stroke-width="1.7" stroke-linecap="butt" fill="none"/>
<text x="38.4" y="473.1" font-size="10.4" text-anchor="end">4</text>
<path d="M40.2 407.1L48.3 407.1" stroke="#000" stroke-width="1.7" stroke-linecap="butt" fill="none"/>
<text x="38.4" y="410.6" font-size="10.4" text-anchor="end">6</text>
<path d="M47.6 594.6L330.0 594.6" stroke="#000" stroke-width="1.7" stroke-linecap="butt" fill="none"/>
<path d="M59.2 594.6L59.2 603.2" stroke="#000" stroke-width="1.7" stroke-linecap="butt" fill="none"/>
<path d="M75.3 594.6L75.3 603.2" stroke="#000" stroke-width="1.7" stroke-linecap="butt" fill="none"/>
<path d="M91.3 594.6L91.3 603.2" stroke="#000" stroke-width="1.7" stroke-linecap="butt" fill="none"/>
<path d="M107.4 594.6L107.4 603.2" stroke="#000" stroke-width="1.7" stroke-linecap="butt" fill="none"/>
<path d="M123.4 594.6L123.4 603.2" stroke="#000" stroke-width="1.7" stroke-linecap="butt" fill="none"/>
<path d="M139.5 594.6L139.5 603.2" stroke="#000" stroke-width="1.7" stroke-linecap="butt" fill="none"/>
<path d="M155.6 594.6L155.6 603.2" stroke="#000" stroke-width="1.7" stroke-linecap="butt" fill="none"/>
<path d="M171.6 594.6L171.6 603.2" stroke="#000" stroke-width="1.7" stroke-linecap="butt" fill="none"/>
<path d="M187.7 594.6L187.7 603.2" stroke="#000" stroke-width="1.7" stroke-linecap="butt" fill="none"/>
<path d="M203.7 594.6L203.7 603.2" stroke="#000" stroke-width="1.7" stroke-linecap="butt" fill="none"/>
<path d="M219.8 594.6L219.8 603.2" stroke="#000" stroke-width="1.7" stroke-linecap="butt" fill="none"/>
<path d="M235.9 594.6L235.9 603.2" stroke="#000" stroke-width="1.7" stroke-linecap="butt" fill="none"/>
<path d="M251.9 594.6L251.9 603.2" stroke="#000" stroke-width="1.7" stroke-linecap="butt" fill="none"/>
<path d="M268.0 594.6L268.0 603.2" stroke="#000" stroke-width="1.7" stroke-linecap="butt" fill="none"/>
<path d="M284.0 594.6L284.0 603.2" stroke="#000" stroke-width="1.7" stroke-linecap="butt" fill="none"/>
<path d="M300.1 594.6L300.1 603.2" stroke="#000" stroke-width="1.7" stroke-linecap="butt" fill="none"/>
<path d="M316.2 594.6L316.2 603.2" stroke="#000" stroke-width="1.7" stroke-linecap="butt" fill="none"/>
<text transform="translate(8.8 482.0) rotate(-90)" font-size="10.4" text-anchor="middle">Relative BrdU intensity in</text>
<text transform="translate(20.4 481.2) rotate(-90)" font-size="10.4" text-anchor="middle">CENPF +ve cells (arb. units)</text>
<text x="1.0" y="613.6" font-size="10.4">10 Gy IR</text>
<text transform="translate(64.4 617.2) rotate(-90)" font-size="10.4" text-anchor="end">siControl</text>
<path d="M56.2 611.0L62.2 611.0" stroke="#666" stroke-width="0.9" stroke-linecap="butt" fill="none"/>
<text transform="translate(80.5 617.2) rotate(-90)" font-size="10.4" text-anchor="end">siACTB</text>
<path d="M72.3 611.0L78.3 611.0" stroke="#666" stroke-width="0.9" stroke-linecap="butt" fill="none"/>
<text transform="translate(96.5 617.2) rotate(-90)" font-size="10.4" text-anchor="end">siACTG1</text>
<path d="M88.3 611.0L94.3 611.0" stroke="#666" stroke-width="0.9" stroke-linecap="butt" fill="none"/>
<text transform="translate(112.6 617.2) rotate(-90)" font-size="10.4" text-anchor="end">siARPC4</text>
<path d="M104.4 611.0L110.4 611.0" stroke="#666" stroke-width="0.9" stroke-linecap="butt" fill="none"/>
<text transform="translate(128.6 617.2) rotate(-90)" font-size="10.4" text-anchor="end">siDIAPH1</text>
<path d="M120.4 611.0L126.4 611.0" stroke="#666" stroke-width="0.9" stroke-linecap="butt" fill="none"/>
<text transform="translate(144.7 617.2) rotate(-90)" font-size="10.4" text-anchor="end">siACTB</text>
<path d="M136.5 611.0L142.5 611.0" stroke="#666" stroke-width="0.9" stroke-linecap="butt" fill="none"/>
<text transform="translate(160.8 617.2) rotate(-90)" font-size="10.4" text-anchor="end">siACTG1</text>
<path d="M152.6 611.0L158.6 611.0" stroke="#666" stroke-width="0.9" stroke-linecap="butt" fill="none"/>
<text transform="translate(176.8 617.2) rotate(-90)" font-size="10.4" text-anchor="end">siARPC4</text>
<path d="M168.6 611.0L174.6 611.0" stroke="#666" stroke-width="0.9" stroke-linecap="butt" fill="none"/>
<text transform="translate(192.9 617.2) rotate(-90)" font-size="10.4" text-anchor="end">siControl</text>
<text x="187.7" y="614.8" font-size="10" text-anchor="middle">+</text>
<text transform="translate(208.9 617.2) rotate(-90)" font-size="10.4" text-anchor="end">siControl + mirin</text>
<text x="203.7" y="614.8" font-size="10" text-anchor="middle">+</text>
<text transform="translate(225.0 617.2) rotate(-90)" font-size="10.4" text-anchor="end">siACTB</text>
<text x="219.8" y="614.8" font-size="10" text-anchor="middle">+</text>
<text transform="translate(241.1 617.2) rotate(-90)" font-size="10.4" text-anchor="end">siACTG1</text>
<text x="235.9" y="614.8" font-size="10" text-anchor="middle">+</text>
<text transform="translate(257.1 617.2) rotate(-90)" font-size="10.4" text-anchor="end">siARPC4</text>
<text x="251.9" y="614.8" font-size="10" text-anchor="middle">+</text>
<text transform="translate(273.2 617.2) rotate(-90)" font-size="10.4" text-anchor="end">siDIAPH1</text>
<text x="268.0" y="614.8" font-size="10" text-anchor="middle">+</text>
<text transform="translate(289.2 617.2) rotate(-90)" font-size="10.4" text-anchor="end">siACTB</text>
<text x="284.0" y="614.8" font-size="10" text-anchor="middle">+</text>
<text transform="translate(305.3 617.2) rotate(-90)" font-size="10.4" text-anchor="end">siACTG1</text>
<text x="300.1" y="614.8" font-size="10" text-anchor="middle">+</text>
<text transform="translate(321.4 617.2) rotate(-90)" font-size="10.4" text-anchor="end">siARPC4</text>
<text x="316.2" y="614.8" font-size="10" text-anchor="middle">+</text>
<path d="M132.4 670.9L178.4 670.9" stroke="#000" stroke-width="1.1" stroke-linecap="butt" fill="none"/>
<text x="154.9" y="685.2" font-size="10.3" text-anchor="middle">+ siDIAPH1</text>
<path d="M277.4 670.9L323.9 670.9" stroke="#000" stroke-width="1.1" stroke-linecap="butt" fill="none"/>
<text x="299.9" y="685.2" font-size="10.3" text-anchor="middle">+ siDIAPH1</text>
<path d="M59.2 577.5h0M59.2 576.1h0M59.2 575.0h0M58.6 573.8h0M59.9 573.5h0M57.9 572.2h0M59.2 572.4h0M60.5 571.9h0M57.2 570.9h0M58.6 571.1h0M59.9 571.1h0M61.2 570.9h0M57.2 570.0h0M58.6 569.8h0M59.9 569.6h0M61.2 569.4h0M56.0 568.7h0M57.2 568.8h0M58.6 568.4h0M59.9 568.6h0M61.2 568.9h0M62.5 568.8h0M56.0 567.6h0M57.2 567.1h0M58.6 567.4h0M59.9 567.3h0M61.2 567.6h0M62.5 567.5h0M55.3 565.6h0M56.6 565.8h0M57.9 565.9h0M59.2 566.1h0M60.5 566.3h0M61.8 566.4h0M63.1 565.6h0M55.3 564.8h0M56.6 564.6h0M57.9 565.1h0M59.2 565.0h0M60.5 564.9h0M61.8 565.1h0M63.1 564.6h0M56.6 563.6h0M57.9 563.8h0M59.2 563.2h0M60.5 563.7h0M61.8 563.9h0M56.0 562.2h0M57.2 562.0h0M58.6 562.0h0M59.9 562.5h0M61.2 562.5h0M62.5 562.2h0M56.0 561.3h0M57.2 561.3h0M58.6 560.8h0M59.9 561.1h0M61.2 561.4h0M62.5 561.4h0M57.2 559.5h0M58.6 559.5h0M59.9 559.5h0M61.2 559.9h0M57.9 558.6h0M59.2 558.4h0M60.5 558.5h0M57.9 557.1h0M59.2 556.9h0M60.5 557.4h0M57.9 555.7h0M59.2 556.1h0M60.5 555.9h0M58.6 555.2h0M59.9 555.1h0M58.6 553.6h0M59.9 553.3h0M59.2 552.5h0M59.2 550.8h0M59.2 549.5h0M59.2 548.6h0M59.2 539.3h0M59.2 543.4h0" stroke="#000" stroke-width="3.2" stroke-linecap="round" fill="none"/>
<path d="M75.3 572.2h0M74.0 570.6h0M75.3 570.9h0M76.6 571.0h0M73.3 569.8h0M74.6 569.5h0M75.9 569.6h0M77.2 569.3h0M72.0 567.9h0M73.3 568.1h0M74.6 568.2h0M75.9 568.7h0M77.2 568.7h0M78.5 568.7h0M72.7 567.4h0M74.0 567.3h0M75.3 567.2h0M76.6 567.5h0M77.9 566.7h0M71.4 566.0h0M72.7 565.7h0M74.0 565.9h0M75.3 566.1h0M76.6 565.5h0M77.9 565.7h0M79.2 565.6h0M71.4 564.6h0M72.7 564.3h0M74.0 564.4h0M75.3 564.3h0M76.6 564.8h0M77.9 564.2h0M79.2 564.8h0M72.0 563.1h0M73.3 563.7h0M74.6 563.7h0M75.9 563.7h0M77.2 563.0h0M78.5 563.3h0M72.0 562.5h0M73.3 562.4h0M74.6 562.2h0M75.9 562.1h0M77.2 562.0h0M78.5 562.4h0M73.3 560.6h0M74.6 560.5h0M75.9 561.0h0M77.2 560.9h0M73.3 559.9h0M74.6 559.4h0M75.9 559.5h0M77.2 559.3h0M74.0 558.1h0M75.3 558.3h0M76.6 558.2h0M73.3 556.8h0M74.6 557.5h0M75.9 556.7h0M77.2 557.5h0M74.6 555.7h0M75.9 555.6h0M74.6 554.5h0M75.9 555.0h0M74.0 553.2h0M75.3 553.7h0M76.6 553.0h0M75.3 551.9h0M75.3 550.7h0M75.3 549.9h0M75.3 548.3h0M75.3 535.7h0" stroke="#000" stroke-width="3.2" stroke-linecap="round" fill="none"/>
<path d="M91.3 579.3h0M91.3 577.5h0M91.3 576.6h0M90.7 575.6h0M92.0 575.7h0M90.7 573.9h0M92.0 573.7h0M90.0 572.5h0M91.3 573.2h0M92.6 572.7h0M90.0 572.0h0M91.3 571.6h0M92.6 571.2h0M88.1 570.2h0M89.4 570.1h0M90.7 570.7h0M92.0 570.3h0M93.3 570.1h0M94.6 570.3h0M88.1 568.7h0M89.4 569.1h0M90.7 569.1h0M92.0 569.1h0M93.3 568.8h0M94.6 569.3h0M87.4 568.1h0M88.7 567.8h0M90.0 568.1h0M91.3 567.5h0M92.6 568.2h0M93.9 568.3h0M95.2 567.9h0M88.7 566.7h0M90.0 566.7h0M91.3 566.2h0M92.6 567.1h0M93.9 566.4h0M87.4 565.7h0M88.7 565.0h0M90.0 565.0h0M91.3 565.6h0M92.6 565.1h0M93.9 564.9h0M95.2 565.5h0M87.4 564.2h0M88.7 564.3h0M90.0 563.8h0M91.3 564.5h0M92.6 564.3h0M93.9 563.7h0M95.2 563.8h0M88.7 562.5h0M90.0 562.8h0M91.3 562.6h0M92.6 563.0h0M93.9 563.2h0M88.1 561.7h0M89.4 561.9h0M90.7 561.3h0M92.0 561.9h0M93.3 562.0h0M94.6 561.5h0M89.4 560.3h0M90.7 560.8h0M92.0 560.6h0M93.3 560.2h0M88.7 559.0h0M90.0 559.1h0M91.3 559.6h0M92.6 559.4h0M93.9 559.5h0M89.4 557.9h0M90.7 558.3h0M92.0 558.3h0M93.3 557.7h0M90.0 556.8h0M91.3 556.5h0M92.6 556.7h0M89.4 554.9h0M90.7 555.1h0M92.0 555.8h0M93.3 555.6h0M90.0 554.3h0M91.3 554.4h0M92.6 554.5h0M90.7 552.7h0M92.0 553.0h0M90.7 551.7h0M92.0 552.0h0M90.7 550.3h0M92.0 550.8h0M91.3 549.0h0M91.3 548.3h0M91.3 546.4h0M91.3 545.0h0M91.3 544.0h0M91.3 542.5h0M91.3 541.7h0M91.3 539.1h0M91.3 525.5h0M91.3 534.1h0" stroke="#000" stroke-width="3.2" stroke-linecap="round" fill="none"/>
<path d="M107.4 575.4h0M107.4 574.2h0M106.1 572.6h0M107.4 572.9h0M108.7 572.9h0M106.1 572.1h0M107.4 571.4h0M108.7 571.9h0M105.4 570.3h0M106.7 570.0h0M108.0 570.3h0M109.3 570.3h0M104.8 568.8h0M106.1 568.9h0M107.4 569.5h0M108.7 569.3h0M110.0 568.8h0M104.8 568.0h0M106.1 568.2h0M107.4 568.2h0M108.7 567.9h0M110.0 568.1h0M103.5 566.9h0M104.8 566.6h0M106.1 566.9h0M107.4 566.8h0M108.7 567.0h0M110.0 566.3h0M111.3 567.0h0M102.8 565.4h0M104.1 565.8h0M105.4 565.4h0M106.7 565.3h0M108.0 565.6h0M109.3 565.7h0M110.6 565.5h0M111.9 565.3h0M103.5 564.1h0M104.8 564.3h0M106.1 563.9h0M107.4 564.0h0M108.7 564.2h0M110.0 564.0h0M111.3 564.0h0M104.1 562.8h0M105.4 562.6h0M106.7 562.7h0M108.0 562.6h0M109.3 562.9h0M110.6 563.0h0M105.4 562.0h0M106.7 561.5h0M108.0 561.9h0M109.3 561.9h0M104.8 560.8h0M106.1 559.9h0M107.4 560.0h0M108.7 560.4h0M110.0 560.4h0M105.4 559.4h0M106.7 559.2h0M108.0 559.6h0M109.3 559.1h0M106.1 557.8h0M107.4 558.0h0M108.7 557.7h0M106.1 556.8h0M107.4 556.7h0M108.7 556.3h0M106.7 555.4h0M108.0 555.7h0M106.7 554.1h0M108.0 554.1h0M107.4 552.9h0M107.4 551.3h0M107.4 550.4h0M106.7 549.5h0M108.0 549.3h0M107.4 547.8h0M107.4 546.4h0M107.4 545.1h0M107.4 544.2h0M107.4 543.0h0M107.4 541.9h0M107.4 539.9h0M107.4 539.2h0M107.4 537.9h0M107.4 536.8h0M107.4 535.4h0M107.4 533.8h0M107.4 532.5h0M107.4 531.9h0M107.4 530.0h0M107.4 529.0h0M107.4 526.3h0M107.4 492.1h0M107.4 511.5h0" stroke="#000" stroke-width="3.2" stroke-linecap="round" fill="none"/>
<path d="M123.4 581.2h0M123.4 579.5h0M123.4 577.9h0M122.8 577.5h0M124.1 577.4h0M122.8 575.9h0M124.1 576.3h0M122.8 574.5h0M124.1 574.8h0M122.1 573.2h0M123.4 573.7h0M124.7 573.3h0M121.5 572.0h0M122.8 571.8h0M124.1 572.5h0M125.4 571.9h0M120.8 570.5h0M122.1 570.9h0M123.4 570.7h0M124.7 570.8h0M126.0 570.5h0M119.5 569.4h0M120.8 569.3h0M122.1 569.4h0M123.4 569.4h0M124.7 569.2h0M126.0 569.7h0M127.3 569.5h0M119.5 568.5h0M120.8 568.0h0M122.1 568.1h0M123.4 568.7h0M124.7 568.0h0M126.0 568.3h0M127.3 568.7h0M119.5 567.3h0M120.8 567.0h0M122.1 567.5h0M123.4 566.8h0M124.7 567.5h0M126.0 567.1h0M127.3 566.9h0M120.2 565.5h0M121.5 566.0h0M122.8 565.6h0M124.1 566.2h0M125.4 565.9h0M126.7 565.7h0M119.5 564.9h0M120.8 564.3h0M122.1 564.6h0M123.4 564.6h0M124.7 564.4h0M126.0 564.8h0M127.3 564.5h0M119.5 563.4h0M120.8 563.2h0M122.1 563.3h0M123.4 563.0h0M124.7 563.1h0M126.0 563.7h0M127.3 563.2h0M120.2 562.0h0M121.5 562.1h0M122.8 561.9h0M124.1 561.7h0M125.4 561.9h0M126.7 561.9h0M120.8 561.0h0M122.1 560.7h0M123.4 560.8h0M124.7 561.2h0M126.0 561.1h0M120.8 559.4h0M122.1 559.2h0M123.4 559.8h0M124.7 559.7h0M126.0 559.5h0M122.1 558.5h0M123.4 558.5h0M124.7 558.1h0M121.5 556.8h0M122.8 556.8h0M124.1 557.5h0M125.4 557.3h0M122.1 555.4h0M123.4 555.4h0M124.7 555.5h0M122.1 554.2h0M123.4 554.4h0M124.7 554.7h0M122.1 553.7h0M123.4 553.4h0M124.7 553.5h0M122.1 552.0h0M123.4 551.7h0M124.7 552.4h0M122.1 550.7h0M123.4 550.4h0M124.7 551.2h0M123.4 549.3h0M123.4 548.7h0M123.4 538.0h0" stroke="#000" stroke-width="3.2" stroke-linecap="round" fill="none"/>
<path d="M139.5 576.9h0M138.8 575.6h0M140.2 575.4h0M138.2 573.9h0M139.5 573.6h0M140.8 574.2h0M138.2 572.7h0M139.5 573.1h0M140.8 572.4h0M136.9 571.8h0M138.2 571.3h0M139.5 571.5h0M140.8 571.9h0M142.1 571.6h0M136.9 570.0h0M138.2 569.8h0M139.5 570.1h0M140.8 570.1h0M142.1 570.0h0M136.2 569.1h0M137.6 568.7h0M138.8 568.7h0M140.2 569.0h0M141.4 568.9h0M142.8 569.4h0M135.6 567.5h0M136.9 568.1h0M138.2 567.4h0M139.5 567.8h0M140.8 567.6h0M142.1 568.0h0M143.4 567.8h0M135.6 566.6h0M136.9 566.4h0M138.2 566.7h0M139.5 566.8h0M140.8 566.1h0M142.1 566.3h0M143.4 566.3h0M136.2 564.8h0M137.6 565.0h0M138.8 565.0h0M140.2 565.4h0M141.4 565.2h0M142.8 564.9h0M136.2 563.7h0M137.6 563.6h0M138.8 563.5h0M140.2 564.4h0M141.4 564.2h0M142.8 563.6h0M135.6 563.2h0M136.9 562.8h0M138.2 562.4h0M139.5 562.7h0M140.8 562.7h0M142.1 562.4h0M143.4 562.8h0M135.6 561.6h0M136.9 561.9h0M138.2 561.6h0M139.5 561.3h0M140.8 561.2h0M142.1 561.1h0M143.4 561.0h0M136.9 560.5h0M138.2 560.0h0M139.5 559.9h0M140.8 560.3h0M142.1 560.5h0M136.9 559.3h0M138.2 559.2h0M139.5 558.8h0M140.8 558.7h0M142.1 559.3h0M137.6 557.6h0M138.8 557.8h0M140.2 557.6h0M141.4 558.0h0M138.2 556.6h0M139.5 556.8h0M140.8 556.7h0M138.2 555.6h0M139.5 555.2h0M140.8 555.2h0M138.2 553.6h0M139.5 554.1h0M140.8 553.7h0M138.2 553.1h0M139.5 552.4h0M140.8 552.3h0M138.8 551.0h0M140.2 551.8h0M138.8 550.5h0M140.2 550.2h0M139.5 548.9h0M138.8 547.7h0M140.2 547.9h0M139.5 546.3h0M139.5 545.3h0M139.5 543.6h0M139.5 543.1h0M139.5 537.8h0M139.5 530.9h0" stroke="#000" stroke-width="3.2" stroke-linecap="round" fill="none"/>
<path d="M154.9 575.6h0M156.2 574.8h0M154.3 574.1h0M155.6 573.9h0M156.9 573.6h0M153.6 572.6h0M154.9 572.8h0M156.2 572.8h0M157.5 572.6h0M153.0 571.2h0M154.3 571.8h0M155.6 571.5h0M156.9 571.1h0M158.2 571.8h0M152.3 570.0h0M153.6 570.2h0M154.9 570.3h0M156.2 570.0h0M157.5 570.3h0M158.8 569.9h0M151.7 569.1h0M153.0 568.6h0M154.3 568.9h0M155.6 568.6h0M156.9 568.9h0M158.2 569.3h0M159.5 569.0h0M151.7 568.2h0M153.0 567.9h0M154.3 567.4h0M155.6 568.0h0M156.9 567.6h0M158.2 567.4h0M159.5 568.1h0M152.3 566.7h0M153.6 566.1h0M154.9 566.7h0M156.2 566.1h0M157.5 566.2h0M158.8 566.4h0M151.0 565.0h0M152.3 565.4h0M153.6 565.2h0M154.9 565.6h0M156.2 565.3h0M157.5 565.6h0M158.8 565.3h0M160.1 565.6h0M151.7 563.7h0M153.0 564.2h0M154.3 563.8h0M155.6 564.2h0M156.9 564.1h0M158.2 564.3h0M159.5 563.6h0M152.3 562.9h0M153.6 562.3h0M154.9 562.8h0M156.2 562.4h0M157.5 562.8h0M158.8 563.0h0M151.7 561.9h0M153.0 561.6h0M154.3 561.3h0M155.6 561.2h0M156.9 561.4h0M158.2 561.8h0M159.5 561.5h0M153.0 560.5h0M154.3 559.9h0M155.6 560.3h0M156.9 560.0h0M158.2 560.4h0M153.0 558.7h0M154.3 559.3h0M155.6 559.0h0M156.9 559.1h0M158.2 559.3h0M153.6 557.4h0M154.9 557.7h0M156.2 558.1h0M157.5 558.0h0M154.3 556.2h0M155.6 556.8h0M156.9 556.6h0M154.9 555.5h0M156.2 555.1h0M154.3 554.1h0M155.6 553.6h0M156.9 553.8h0M154.3 552.3h0M155.6 552.4h0M156.9 552.6h0M154.3 551.5h0M155.6 551.4h0M156.9 551.3h0M154.9 549.8h0M156.2 550.2h0M154.9 548.6h0M156.2 548.7h0M154.9 547.7h0M156.2 547.5h0M155.6 546.5h0M154.9 545.3h0M156.2 545.5h0M155.6 544.2h0M155.6 542.5h0M155.6 541.8h0M155.6 540.0h0M155.6 539.0h0M155.6 537.8h0M155.6 536.3h0M155.6 535.2h0M155.6 530.5h0" stroke="#000" stroke-width="3.2" stroke-linecap="round" fill="none"/>
<path d="M171.6 576.5h0M171.6 575.0h0M171.6 573.5h0M171.0 572.6h0M172.3 572.5h0M170.3 571.2h0M171.6 570.8h0M172.9 570.9h0M169.7 570.4h0M171.0 569.8h0M172.3 570.2h0M173.6 569.8h0M169.0 569.0h0M170.3 568.5h0M171.6 568.4h0M172.9 568.2h0M174.2 568.4h0M169.0 567.6h0M170.3 567.2h0M171.6 567.3h0M172.9 567.1h0M174.2 567.5h0M167.7 566.4h0M169.0 566.6h0M170.3 566.3h0M171.6 565.8h0M172.9 566.4h0M174.2 566.5h0M175.5 566.0h0M168.4 564.6h0M169.7 564.9h0M171.0 565.3h0M172.3 565.0h0M173.6 565.3h0M174.9 564.7h0M168.4 563.6h0M169.7 563.8h0M171.0 563.5h0M172.3 563.3h0M173.6 563.6h0M174.9 563.3h0M167.7 562.3h0M169.0 562.4h0M170.3 562.5h0M171.6 562.2h0M172.9 562.4h0M174.2 562.0h0M175.5 562.8h0M169.7 561.3h0M171.0 561.4h0M172.3 561.0h0M173.6 560.8h0M169.7 559.6h0M171.0 560.2h0M172.3 559.5h0M173.6 560.2h0M170.3 558.7h0M171.6 558.8h0M172.9 558.8h0M170.3 557.6h0M171.6 557.2h0M172.9 557.6h0M171.0 556.4h0M172.3 556.6h0M171.6 554.7h0M171.6 553.2h0M171.6 552.6h0M171.6 550.9h0M171.6 549.5h0M171.6 548.7h0M171.6 533.0h0M171.6 540.5h0M171.6 579.3h0" stroke="#000" stroke-width="3.2" stroke-linecap="round" fill="none"/>
<path d="M187.7 572.6h0M187.7 570.2h0M187.0 568.8h0M188.3 568.5h0M186.4 567.4h0M187.7 567.3h0M189.0 567.8h0M186.4 566.3h0M187.7 566.1h0M189.0 566.5h0M186.4 565.0h0M187.7 564.8h0M189.0 565.3h0M186.4 563.4h0M187.7 563.4h0M189.0 563.6h0M186.4 562.1h0M187.7 562.6h0M189.0 562.5h0M186.4 561.2h0M187.7 560.9h0M189.0 561.5h0M185.1 559.7h0M186.4 560.1h0M187.7 560.2h0M189.0 559.7h0M190.3 559.8h0M186.4 558.8h0M187.7 558.8h0M189.0 558.6h0M185.1 557.8h0M186.4 557.2h0M187.7 557.8h0M189.0 557.3h0M190.3 557.7h0M185.1 556.6h0M186.4 556.0h0M187.7 555.7h0M189.0 555.8h0M190.3 556.6h0M185.1 555.3h0M186.4 554.6h0M187.7 555.1h0M189.0 554.6h0M190.3 554.6h0M184.4 554.0h0M185.7 553.9h0M187.0 554.0h0M188.3 554.1h0M189.6 553.2h0M190.9 553.4h0M184.4 552.6h0M185.7 552.0h0M187.0 552.4h0M188.3 552.2h0M189.6 552.3h0M190.9 552.1h0M183.1 551.5h0M184.4 550.8h0M185.7 551.2h0M187.0 550.8h0M188.3 551.1h0M189.6 550.9h0M190.9 551.3h0M192.2 550.8h0M184.4 549.9h0M185.7 549.6h0M187.0 549.8h0M188.3 549.9h0M189.6 550.3h0M190.9 549.8h0M184.4 548.9h0M185.7 548.5h0M187.0 548.4h0M188.3 548.5h0M189.6 548.3h0M190.9 548.3h0M183.8 547.3h0M185.1 547.5h0M186.4 547.3h0M187.7 547.0h0M189.0 547.6h0M190.3 547.6h0M191.6 547.5h0M185.7 546.5h0M187.0 546.4h0M188.3 546.1h0M189.6 546.0h0M185.1 545.3h0M186.4 544.8h0M187.7 544.8h0M189.0 544.8h0M190.3 544.6h0M185.1 544.0h0M186.4 543.4h0M187.7 543.8h0M189.0 543.6h0M190.3 543.4h0M185.7 542.1h0M187.0 542.7h0M188.3 542.7h0M189.6 542.8h0M185.1 541.3h0M186.4 541.2h0M187.7 541.0h0M189.0 541.6h0M190.3 540.7h0M185.7 540.2h0M187.0 539.9h0M188.3 540.0h0M189.6 540.4h0M186.4 538.6h0M187.7 538.9h0M189.0 538.6h0M185.7 537.5h0M187.0 537.6h0M188.3 537.3h0M189.6 537.5h0M187.0 536.0h0M188.3 536.5h0M187.0 535.1h0M188.3 534.9h0M187.0 534.0h0M188.3 533.7h0M187.7 532.4h0M187.7 529.9h0M187.7 501.2h0M187.7 510.2h0M187.7 518.7h0M187.7 524.9h0" stroke="#adadb1" stroke-width="3.2" stroke-linecap="round" fill="none"/>
<path d="M203.7 581.1h0M203.1 579.4h0M204.4 579.2h0M202.4 578.6h0M203.7 578.4h0M205.0 578.3h0M201.1 577.3h0M202.4 577.1h0M203.7 577.1h0M205.0 577.4h0M206.3 577.3h0M201.1 576.0h0M202.4 575.7h0M203.7 575.9h0M205.0 575.6h0M206.3 575.7h0M201.1 574.3h0M202.4 574.7h0M203.7 574.2h0M205.0 574.3h0M206.3 574.8h0M200.5 573.2h0M201.8 573.1h0M203.1 573.7h0M204.4 573.0h0M205.7 573.5h0M207.0 573.7h0M200.5 572.2h0M201.8 572.0h0M203.1 571.7h0M204.4 572.0h0M205.7 572.0h0M207.0 572.3h0M200.5 570.8h0M201.8 571.0h0M203.1 571.1h0M204.4 570.7h0M205.7 570.7h0M207.0 570.9h0M200.5 569.8h0M201.8 569.5h0M203.1 569.7h0M204.4 569.4h0M205.7 569.2h0M207.0 569.8h0M201.1 568.4h0M202.4 568.3h0M203.7 568.7h0M205.0 568.6h0M206.3 567.9h0M201.1 567.4h0M202.4 567.0h0M203.7 567.1h0M205.0 567.5h0M206.3 567.0h0M201.1 565.9h0M202.4 566.1h0M203.7 566.0h0M205.0 566.1h0M206.3 565.8h0M200.5 564.8h0M201.8 564.8h0M203.1 564.3h0M204.4 564.3h0M205.7 564.2h0M207.0 564.9h0M201.1 563.0h0M202.4 563.6h0M203.7 563.4h0M205.0 562.9h0M206.3 563.5h0M201.8 562.3h0M203.1 562.0h0M204.4 562.2h0M205.7 562.5h0M202.4 561.2h0M203.7 560.5h0M205.0 560.7h0M202.4 559.4h0M203.7 559.4h0M205.0 559.4h0M203.1 558.7h0M204.4 558.4h0M203.1 556.9h0M204.4 557.4h0M203.1 556.2h0M204.4 555.6h0M203.1 554.5h0M204.4 554.6h0M203.1 553.4h0M204.4 553.2h0M203.1 552.2h0M204.4 551.7h0M203.7 550.9h0M203.7 549.4h0M203.7 548.2h0M203.7 547.2h0M203.7 545.8h0M203.7 541.7h0M203.7 539.3h0M203.7 584.3h0" stroke="#adadb1" stroke-width="3.2" stroke-linecap="round" fill="none"/>
<path d="M219.8 573.2h0M219.8 572.1h0M219.2 570.9h0M220.5 570.3h0M218.5 569.7h0M219.8 569.2h0M221.1 569.4h0M217.9 568.4h0M219.2 568.2h0M220.5 567.7h0M221.8 567.6h0M217.9 566.6h0M219.2 566.5h0M220.5 566.9h0M221.8 566.6h0M217.9 565.2h0M219.2 565.9h0M220.5 565.4h0M221.8 565.8h0M216.6 564.2h0M217.9 563.9h0M219.2 564.2h0M220.5 564.4h0M221.8 564.0h0M223.1 564.3h0M216.6 563.0h0M217.9 563.2h0M219.2 563.0h0M220.5 563.2h0M221.8 562.7h0M223.1 563.3h0M215.9 562.2h0M217.2 561.8h0M218.5 561.6h0M219.8 561.7h0M221.1 562.0h0M222.4 561.8h0M223.7 562.2h0M215.9 560.5h0M217.2 560.9h0M218.5 560.6h0M219.8 560.6h0M221.1 560.2h0M222.4 560.2h0M223.7 560.3h0M215.9 559.7h0M217.2 558.9h0M218.5 559.4h0M219.8 559.7h0M221.1 559.1h0M222.4 559.7h0M223.7 559.4h0M216.6 557.9h0M217.9 558.0h0M219.2 557.8h0M220.5 558.3h0M221.8 557.7h0M223.1 558.3h0M215.9 556.4h0M217.2 556.8h0M218.5 557.0h0M219.8 556.9h0M221.1 556.8h0M222.4 556.4h0M223.7 556.8h0M215.9 555.7h0M217.2 555.2h0M218.5 555.6h0M219.8 555.4h0M221.1 555.4h0M222.4 555.7h0M223.7 555.2h0M215.2 554.6h0M216.6 554.6h0M217.9 554.3h0M219.2 554.0h0M220.5 553.9h0M221.8 554.6h0M223.1 553.9h0M224.4 554.3h0M215.2 552.7h0M216.6 553.0h0M217.9 552.7h0M219.2 553.1h0M220.5 553.0h0M221.8 552.9h0M223.1 552.8h0M224.4 553.0h0M216.6 552.1h0M217.9 551.8h0M219.2 552.1h0M220.5 551.4h0M221.8 552.2h0M223.1 551.8h0M216.6 550.6h0M217.9 550.7h0M219.2 550.3h0M220.5 550.8h0M221.8 550.2h0M223.1 550.3h0M216.6 549.1h0M217.9 549.6h0M219.2 548.9h0M220.5 549.4h0M221.8 549.0h0M223.1 549.4h0M217.2 548.2h0M218.5 547.6h0M219.8 547.8h0M221.1 548.1h0M222.4 548.5h0M216.6 547.1h0M217.9 546.6h0M219.2 547.1h0M220.5 546.8h0M221.8 547.2h0M223.1 546.3h0M217.2 545.5h0M218.5 545.5h0M219.8 545.2h0M221.1 545.3h0M222.4 545.7h0M217.9 544.0h0M219.2 544.0h0M220.5 544.0h0M221.8 544.1h0M217.9 543.5h0M219.2 543.3h0M220.5 543.0h0M221.8 543.0h0M217.9 541.9h0M219.2 541.5h0M220.5 541.9h0M221.8 542.1h0M218.5 540.2h0M219.8 540.7h0M221.1 540.4h0M217.9 539.5h0M219.2 539.0h0M220.5 539.6h0M221.8 539.7h0M217.9 538.3h0M219.2 538.3h0M220.5 538.3h0M221.8 538.1h0M219.2 537.1h0M220.5 536.6h0M218.5 535.6h0M219.8 535.9h0M221.1 535.2h0M218.5 534.6h0M219.8 534.0h0M221.1 534.0h0M219.2 532.8h0M220.5 533.0h0M218.5 531.7h0M219.8 532.0h0M221.1 532.1h0M219.2 530.9h0M220.5 530.8h0M219.2 529.6h0M220.5 529.1h0M219.2 528.3h0M220.5 528.3h0M219.2 526.4h0M220.5 527.1h0M219.2 525.6h0M220.5 525.5h0M219.2 524.6h0M220.5 524.4h0M219.2 522.7h0M220.5 522.8h0M219.2 522.1h0M220.5 521.4h0M219.8 520.1h0M219.2 519.7h0M220.5 519.2h0M219.8 518.4h0M219.8 516.8h0M219.8 515.5h0M219.8 514.0h0M219.8 512.6h0M219.8 511.7h0M219.8 510.4h0M219.8 509.6h0M219.8 508.4h0M219.8 505.5h0M219.8 438.4h0M219.8 449.0h0M219.8 463.4h0M219.8 468.0h0M219.8 471.8h0M219.8 479.0h0M219.8 486.8h0M219.8 491.5h0M219.8 497.1h0" stroke="#adadb1" stroke-width="3.2" stroke-linecap="round" fill="none"/>
<path d="M235.9 577.5h0M235.2 575.9h0M236.5 575.8h0M234.6 575.0h0M235.9 574.8h0M237.2 574.8h0M233.9 573.8h0M235.2 573.7h0M236.5 573.0h0M237.8 573.4h0M233.9 571.7h0M235.2 572.0h0M236.5 572.3h0M237.8 572.2h0M233.9 570.9h0M235.2 570.8h0M236.5 571.3h0M237.8 571.0h0M232.6 569.8h0M233.9 569.5h0M235.2 570.0h0M236.5 569.8h0M237.8 569.8h0M239.1 569.4h0M232.6 568.6h0M233.9 568.2h0M235.2 568.0h0M236.5 568.4h0M237.8 568.7h0M239.1 568.0h0M232.0 566.8h0M233.3 566.9h0M234.6 566.7h0M235.9 566.9h0M237.2 567.0h0M238.5 567.5h0M239.8 567.5h0M232.0 565.6h0M233.3 565.7h0M234.6 565.8h0M235.9 565.5h0M237.2 565.6h0M238.5 565.8h0M239.8 565.7h0M231.3 564.4h0M232.6 564.3h0M233.9 565.0h0M235.2 564.6h0M236.5 564.9h0M237.8 564.7h0M239.1 564.9h0M240.4 564.4h0M231.3 563.4h0M232.6 563.5h0M233.9 563.6h0M235.2 563.1h0M236.5 563.2h0M237.8 563.7h0M239.1 563.4h0M240.4 563.2h0M231.3 561.9h0M232.6 562.3h0M233.9 561.7h0M235.2 562.4h0M236.5 562.2h0M237.8 562.0h0M239.1 562.5h0M240.4 561.9h0M232.0 561.1h0M233.3 561.0h0M234.6 560.8h0M235.9 561.1h0M237.2 560.5h0M238.5 560.7h0M239.8 561.0h0M231.3 559.7h0M232.6 559.8h0M233.9 559.8h0M235.2 559.5h0M236.5 560.0h0M237.8 559.8h0M239.1 559.5h0M240.4 559.5h0M231.3 558.7h0M232.6 558.4h0M233.9 558.4h0M235.2 558.5h0M236.5 558.7h0M237.8 558.0h0M239.1 558.2h0M240.4 558.0h0M232.6 557.1h0M233.9 557.4h0M235.2 557.3h0M236.5 557.2h0M237.8 557.0h0M239.1 557.2h0M232.6 556.2h0M233.9 555.5h0M235.2 556.0h0M236.5 556.1h0M237.8 555.9h0M239.1 556.2h0M232.0 554.8h0M233.3 554.9h0M234.6 554.7h0M235.9 554.9h0M237.2 554.3h0M238.5 554.8h0M239.8 554.8h0M233.3 553.4h0M234.6 553.6h0M235.9 553.1h0M237.2 553.1h0M238.5 553.1h0M233.3 552.3h0M234.6 552.5h0M235.9 552.4h0M237.2 552.0h0M238.5 552.3h0M233.3 550.4h0M234.6 551.0h0M235.9 550.5h0M237.2 550.6h0M238.5 550.5h0M233.3 549.6h0M234.6 549.9h0M235.9 549.2h0M237.2 549.9h0M238.5 549.2h0M233.9 548.2h0M235.2 548.4h0M236.5 548.1h0M237.8 548.6h0M233.9 547.4h0M235.2 547.4h0M236.5 547.1h0M237.8 546.7h0M234.6 545.8h0M235.9 545.5h0M237.2 546.0h0M234.6 544.7h0M235.9 544.5h0M237.2 544.6h0M235.2 543.8h0M236.5 543.6h0M235.2 541.9h0M236.5 542.5h0M235.2 540.8h0M236.5 541.0h0M235.2 539.6h0M236.5 539.5h0M235.9 538.1h0M235.9 537.0h0M235.9 535.6h0M235.9 534.8h0M235.9 529.2h0" stroke="#adadb1" stroke-width="3.2" stroke-linecap="round" fill="none"/>
<path d="M251.9 575.7h0M250.6 574.3h0M251.9 574.5h0M253.2 575.0h0M250.0 573.0h0M251.3 573.0h0M252.6 573.6h0M253.9 573.3h0M250.0 572.5h0M251.3 572.4h0M252.6 572.1h0M253.9 572.4h0M248.7 570.9h0M250.0 570.6h0M251.3 570.6h0M252.6 570.4h0M253.9 571.2h0M255.2 571.0h0M248.0 570.0h0M249.3 569.5h0M250.6 569.8h0M251.9 569.5h0M253.2 569.9h0M254.5 569.9h0M255.8 569.3h0M248.0 568.2h0M249.3 567.9h0M250.6 568.6h0M251.9 568.6h0M253.2 568.3h0M254.5 567.9h0M255.8 568.7h0M248.0 566.7h0M249.3 566.9h0M250.6 567.2h0M251.9 567.4h0M253.2 567.1h0M254.5 567.2h0M255.8 566.8h0M247.4 565.5h0M248.7 565.9h0M250.0 565.5h0M251.3 565.6h0M252.6 565.8h0M253.9 565.9h0M255.2 566.0h0M256.5 566.0h0M246.1 564.2h0M247.4 564.8h0M248.7 564.2h0M250.0 564.6h0M251.3 564.5h0M252.6 564.8h0M253.9 564.8h0M255.2 564.4h0M256.5 564.7h0M257.8 564.8h0M248.0 563.4h0M249.3 563.0h0M250.6 563.1h0M251.9 563.8h0M253.2 563.1h0M254.5 563.3h0M255.8 563.6h0M248.0 562.2h0M249.3 562.3h0M250.6 561.7h0M251.9 561.7h0M253.2 562.5h0M254.5 562.4h0M255.8 561.7h0M248.0 560.6h0M249.3 561.0h0M250.6 561.2h0M251.9 561.0h0M253.2 561.2h0M254.5 560.6h0M255.8 560.5h0M248.7 559.8h0M250.0 559.2h0M251.3 560.0h0M252.6 559.8h0M253.9 559.3h0M255.2 559.9h0M248.7 558.6h0M250.0 558.7h0M251.3 558.7h0M252.6 557.9h0M253.9 558.7h0M255.2 558.4h0M248.7 557.1h0M250.0 557.2h0M251.3 557.2h0M252.6 557.4h0M253.9 556.7h0M255.2 556.7h0M249.3 555.4h0M250.6 556.1h0M251.9 555.4h0M253.2 556.1h0M254.5 556.1h0M250.0 554.3h0M251.3 554.7h0M252.6 554.3h0M253.9 554.5h0M249.3 553.2h0M250.6 553.0h0M251.9 553.6h0M253.2 553.7h0M254.5 553.7h0M249.3 552.0h0M250.6 551.9h0M251.9 552.3h0M253.2 551.8h0M254.5 552.2h0M250.0 550.5h0M251.3 550.5h0M252.6 551.0h0M253.9 550.9h0M250.6 549.6h0M251.9 549.5h0M253.2 549.7h0M251.3 548.6h0M252.6 548.7h0M251.3 547.3h0M252.6 546.7h0M251.3 546.2h0M252.6 545.6h0M251.9 544.5h0M251.3 543.2h0M252.6 543.2h0M251.3 542.0h0M252.6 542.5h0M251.9 541.2h0M251.9 539.8h0M251.9 537.9h0M251.3 537.4h0M252.6 537.5h0M251.9 536.2h0M251.3 534.6h0M252.6 534.2h0M251.9 533.2h0M251.9 532.5h0M251.9 531.0h0M251.9 529.5h0M251.9 526.2h0M251.9 524.8h0M251.9 522.3h0M251.9 519.2h0M251.9 488.4h0M251.9 504.0h0M251.9 510.2h0" stroke="#adadb1" stroke-width="3.2" stroke-linecap="round" fill="none"/>
<path d="M268.0 573.8h0M267.3 572.6h0M268.6 572.2h0M266.7 570.8h0M268.0 570.7h0M269.3 571.0h0M265.4 570.3h0M266.7 570.1h0M268.0 569.7h0M269.3 570.2h0M270.6 569.6h0M264.7 568.5h0M266.0 568.6h0M267.3 568.8h0M268.6 568.6h0M269.9 568.9h0M271.2 568.3h0M264.7 567.0h0M266.0 567.7h0M267.3 567.2h0M268.6 567.7h0M269.9 567.7h0M271.2 567.6h0M264.7 565.7h0M266.0 565.9h0M267.3 566.5h0M268.6 565.9h0M269.9 566.3h0M271.2 566.2h0M264.1 564.5h0M265.4 565.3h0M266.7 564.8h0M268.0 565.0h0M269.3 565.0h0M270.6 564.7h0M271.9 564.5h0M264.7 564.0h0M266.0 563.3h0M267.3 564.1h0M268.6 563.5h0M269.9 563.9h0M271.2 563.3h0M264.7 562.4h0M266.0 562.1h0M267.3 562.2h0M268.6 562.7h0M269.9 562.2h0M271.2 562.3h0M265.4 560.9h0M266.7 560.9h0M268.0 560.9h0M269.3 561.1h0M270.6 561.0h0M265.4 559.5h0M266.7 560.1h0M268.0 560.2h0M269.3 559.7h0M270.6 559.5h0M266.0 558.3h0M267.3 558.6h0M268.6 558.9h0M269.9 558.3h0M265.4 557.2h0M266.7 557.4h0M268.0 557.1h0M269.3 557.0h0M270.6 557.3h0M266.0 556.6h0M267.3 556.2h0M268.6 555.8h0M269.9 555.9h0M266.0 555.3h0M267.3 555.2h0M268.6 554.6h0M269.9 555.3h0M266.7 553.4h0M268.0 553.4h0M269.3 554.0h0M266.7 552.8h0M268.0 552.4h0M269.3 552.6h0M266.7 551.1h0M268.0 551.0h0M269.3 550.9h0M267.3 550.3h0M268.6 549.9h0M268.0 548.2h0M268.0 547.4h0M268.0 545.9h0M268.0 545.0h0M268.0 544.1h0M268.0 528.7h0M268.0 534.4h0M268.0 538.0h0" stroke="#adadb1" stroke-width="3.2" stroke-linecap="round" fill="none"/>
<path d="M284.0 584.4h0M284.0 582.7h0M282.7 581.5h0M284.0 581.5h0M285.3 582.0h0M281.4 580.9h0M282.7 580.4h0M284.0 580.7h0M285.3 580.1h0M286.6 580.9h0M280.8 579.7h0M282.1 579.3h0M283.4 579.7h0M284.7 579.4h0M286.0 579.0h0M287.3 579.6h0M280.1 578.5h0M281.4 578.0h0M282.7 577.8h0M284.0 578.5h0M285.3 577.9h0M286.6 578.0h0M287.9 577.9h0M281.4 576.5h0M282.7 577.1h0M284.0 576.3h0M285.3 576.9h0M286.6 576.6h0M282.1 575.6h0M283.4 575.7h0M284.7 575.2h0M286.0 575.3h0M282.1 574.0h0M283.4 574.3h0M284.7 574.4h0M286.0 574.6h0M282.7 572.8h0M284.0 572.7h0M285.3 573.1h0M283.4 571.9h0M284.7 572.1h0M282.7 570.3h0M284.0 570.9h0M285.3 570.5h0M282.1 568.9h0M283.4 569.1h0M284.7 569.1h0M286.0 569.7h0M282.1 568.0h0M283.4 568.1h0M284.7 568.4h0M286.0 568.3h0M282.1 566.6h0M283.4 566.9h0M284.7 566.9h0M286.0 567.1h0M282.1 566.0h0M283.4 565.3h0M284.7 565.2h0M286.0 565.9h0M282.1 564.1h0M283.4 564.1h0M284.7 564.2h0M286.0 564.3h0M281.4 562.7h0M282.7 563.3h0M284.0 563.1h0M285.3 563.0h0M286.6 563.2h0M281.4 561.9h0M282.7 562.0h0M284.0 561.9h0M285.3 561.5h0M286.6 562.2h0M281.4 560.3h0M282.7 560.5h0M284.0 560.9h0M285.3 560.3h0M286.6 560.5h0M280.8 559.5h0M282.1 559.2h0M283.4 559.4h0M284.7 559.5h0M286.0 559.0h0M287.3 559.0h0M282.1 557.8h0M283.4 557.6h0M284.7 557.7h0M286.0 558.0h0M282.1 557.2h0M283.4 556.9h0M284.7 556.7h0M286.0 557.0h0M282.1 555.2h0M283.4 555.5h0M284.7 555.1h0M286.0 555.7h0M282.1 554.5h0M283.4 554.6h0M284.7 554.4h0M286.0 554.4h0M282.1 553.5h0M283.4 552.8h0M284.7 553.3h0M286.0 552.9h0M282.7 552.1h0M284.0 552.1h0M285.3 551.9h0M282.1 550.1h0M283.4 550.6h0M284.7 550.7h0M286.0 550.3h0M282.7 549.5h0M284.0 548.8h0M285.3 549.0h0M282.7 548.2h0M284.0 548.5h0M285.3 547.6h0M282.7 546.5h0M284.0 546.6h0M285.3 546.8h0M282.7 545.5h0M284.0 545.5h0M285.3 545.3h0M283.4 543.9h0M284.7 544.4h0M283.4 542.8h0M284.7 543.3h0M283.4 541.5h0M284.7 542.2h0M284.0 540.1h0M283.4 539.5h0M284.7 539.0h0M283.4 538.3h0M284.7 537.7h0M284.0 537.1h0M284.0 535.3h0M283.4 534.0h0M284.7 534.0h0M283.4 532.7h0M284.7 533.2h0M283.4 531.8h0M284.7 532.0h0M283.4 530.7h0M284.7 530.3h0M284.0 529.4h0M283.4 527.8h0M284.7 527.9h0M284.0 526.5h0M284.0 525.8h0M284.0 524.1h0M284.0 523.2h0M284.0 521.4h0M284.0 520.2h0M284.0 494.6h0" stroke="#adadb1" stroke-width="3.2" stroke-linecap="round" fill="none"/>
<path d="M300.1 580.9h0M300.1 579.8h0M298.8 578.0h0M300.1 578.2h0M301.4 578.3h0M298.8 576.9h0M300.1 577.1h0M301.4 577.3h0M297.5 575.7h0M298.8 575.8h0M300.1 576.2h0M301.4 576.2h0M302.7 576.0h0M296.8 574.4h0M298.1 574.2h0M299.4 575.0h0M300.7 575.0h0M302.0 574.3h0M303.3 574.6h0M296.8 573.2h0M298.1 573.0h0M299.4 573.6h0M300.7 573.6h0M302.0 573.3h0M303.3 573.0h0M296.8 571.7h0M298.1 571.9h0M299.4 572.3h0M300.7 571.8h0M302.0 571.7h0M303.3 571.7h0M296.2 570.9h0M297.5 571.1h0M298.8 570.6h0M300.1 570.6h0M301.4 571.1h0M302.7 570.8h0M304.0 570.7h0M296.2 569.3h0M297.5 569.4h0M298.8 569.8h0M300.1 570.0h0M301.4 570.0h0M302.7 569.6h0M304.0 570.0h0M296.8 568.2h0M298.1 568.3h0M299.4 568.5h0M300.7 568.6h0M302.0 568.0h0M303.3 568.1h0M297.5 567.0h0M298.8 566.9h0M300.1 566.9h0M301.4 567.1h0M302.7 567.5h0M297.5 566.2h0M298.8 565.7h0M300.1 565.6h0M301.4 566.1h0M302.7 565.7h0M298.1 564.9h0M299.4 564.7h0M300.7 564.2h0M302.0 564.8h0M298.1 563.7h0M299.4 563.8h0M300.7 563.2h0M302.0 563.7h0M298.8 562.0h0M300.1 562.0h0M301.4 562.0h0M299.4 560.6h0M300.7 561.2h0M299.4 559.8h0M300.7 559.4h0M299.4 558.6h0M300.7 558.8h0M299.4 556.9h0M300.7 557.2h0M300.1 556.2h0M299.4 554.9h0M300.7 554.5h0M299.4 553.7h0M300.7 553.7h0M299.4 552.3h0M300.7 552.2h0M299.4 551.2h0M300.7 550.9h0M300.1 549.9h0M299.4 548.1h0M300.7 548.2h0M299.4 546.7h0M300.7 547.4h0M299.4 545.5h0M300.7 545.5h0M299.4 544.5h0M300.7 544.9h0M300.1 543.2h0M300.1 542.5h0M300.1 540.7h0M299.4 539.7h0M300.7 539.9h0M300.1 538.3h0M300.1 536.8h0M299.4 535.7h0M300.7 536.3h0M300.1 534.2h0M300.1 533.3h0M300.1 532.1h0M300.1 530.7h0M300.1 529.9h0M300.1 528.8h0M300.1 502.4h0M300.1 507.1h0M300.1 519.1h0M300.1 523.0h0" stroke="#adadb1" stroke-width="3.2" stroke-linecap="round" fill="none"/>
<path d="M316.2 577.9h0M315.5 576.8h0M316.8 576.8h0M314.9 575.2h0M316.2 575.9h0M317.5 576.0h0M314.9 574.7h0M316.2 574.3h0M317.5 574.5h0M314.2 572.9h0M315.5 573.4h0M316.8 572.8h0M318.1 572.6h0M314.2 572.2h0M315.5 571.8h0M316.8 572.2h0M318.1 571.8h0M313.6 570.7h0M314.9 570.8h0M316.2 570.5h0M317.5 570.6h0M318.8 570.3h0M312.9 569.3h0M314.2 568.9h0M315.5 568.8h0M316.8 569.1h0M318.1 569.5h0M319.4 569.5h0M312.3 567.8h0M313.6 568.1h0M314.9 567.7h0M316.2 568.1h0M317.5 568.4h0M318.8 567.8h0M320.1 568.1h0M312.3 567.0h0M313.6 566.6h0M314.9 567.1h0M316.2 567.2h0M317.5 566.4h0M318.8 567.2h0M320.1 566.7h0M312.9 565.2h0M314.2 565.8h0M315.5 565.7h0M316.8 565.2h0M318.1 565.5h0M319.4 565.7h0M311.6 564.1h0M312.9 564.0h0M314.2 564.0h0M315.5 564.2h0M316.8 564.4h0M318.1 564.1h0M319.4 564.0h0M320.7 564.0h0M312.3 562.8h0M313.6 562.9h0M314.9 563.0h0M316.2 562.8h0M317.5 563.0h0M318.8 563.0h0M320.1 563.5h0M312.9 561.5h0M314.2 561.9h0M315.5 561.5h0M316.8 561.5h0M318.1 561.4h0M319.4 562.0h0M312.3 560.5h0M313.6 560.4h0M314.9 560.5h0M316.2 560.4h0M317.5 560.7h0M318.8 560.4h0M320.1 560.2h0M312.3 559.6h0M313.6 559.5h0M314.9 559.2h0M316.2 559.4h0M317.5 559.7h0M318.8 559.2h0M320.1 559.2h0M312.9 558.1h0M314.2 558.2h0M315.5 558.2h0M316.8 558.4h0M318.1 557.7h0M319.4 557.9h0M312.3 556.9h0M313.6 556.6h0M314.9 557.2h0M316.2 556.8h0M317.5 556.7h0M318.8 556.5h0M320.1 556.4h0M313.6 555.8h0M314.9 555.1h0M316.2 555.4h0M317.5 555.5h0M318.8 555.5h0M313.6 554.3h0M314.9 554.7h0M316.2 554.4h0M317.5 554.3h0M318.8 554.1h0M312.9 553.1h0M314.2 553.3h0M315.5 552.8h0M316.8 552.9h0M318.1 552.9h0M319.4 552.9h0M313.6 551.6h0M314.9 552.1h0M316.2 551.5h0M317.5 552.0h0M318.8 551.4h0M314.2 550.1h0M315.5 550.8h0M316.8 550.2h0M318.1 550.3h0M314.2 549.5h0M315.5 549.7h0M316.8 549.7h0M318.1 549.3h0M314.9 547.7h0M316.2 548.4h0M317.5 548.0h0M314.9 546.7h0M316.2 546.4h0M317.5 547.1h0M314.9 545.6h0M316.2 546.0h0M317.5 545.1h0M315.5 544.5h0M316.8 544.4h0M315.5 542.7h0M316.8 542.8h0M316.2 541.7h0M316.2 540.5h0M316.2 539.7h0M315.5 538.2h0M316.8 537.7h0M316.2 537.0h0M316.2 535.6h0M316.2 534.5h0M316.2 533.4h0M316.2 531.7h0" stroke="#adadb1" stroke-width="3.2" stroke-linecap="round" fill="none"/>
<path d="M52.8 564.8H65.6" stroke="#ff3314" stroke-width="2.8" fill="none"/>
<path d="M68.9 564.8H81.7" stroke="#ff3314" stroke-width="2.8" fill="none"/>
<path d="M84.9 565.7H97.7" stroke="#ff3314" stroke-width="2.8" fill="none"/>
<path d="M101.0 566.2H113.8" stroke="#ff3314" stroke-width="2.8" fill="none"/>
<path d="M117.0 565.2H129.8" stroke="#ff3314" stroke-width="2.8" fill="none"/>
<path d="M133.1 565.2H145.9" stroke="#ff3314" stroke-width="2.8" fill="none"/>
<path d="M149.2 565.9H162.0" stroke="#ff3314" stroke-width="2.8" fill="none"/>
<path d="M165.2 564.9H178.0" stroke="#ff3314" stroke-width="2.8" fill="none"/>
<path d="M181.3 550.7H194.1" stroke="#ff3314" stroke-width="2.8" fill="none"/>
<path d="M197.3 568.2H210.1" stroke="#ff3314" stroke-width="2.8" fill="none"/>
<path d="M213.4 553.2H226.2" stroke="#ff3314" stroke-width="2.8" fill="none"/>
<path d="M229.5 559.4H242.3" stroke="#ff3314" stroke-width="2.8" fill="none"/>
<path d="M245.5 563.4H258.3" stroke="#ff3314" stroke-width="2.8" fill="none"/>
<path d="M261.6 564.1H274.4" stroke="#ff3314" stroke-width="2.8" fill="none"/>
<path d="M277.6 563.0H290.4" stroke="#ff3314" stroke-width="2.8" fill="none"/>
<path d="M293.7 569.6H306.5" stroke="#ff3314" stroke-width="2.8" fill="none"/>
<path d="M309.8 562.1H322.6" stroke="#ff3314" stroke-width="2.8" fill="none"/>
<path d="M186.1 368.1V362.8H267.9V368.1" stroke="#000" stroke-width="1.25" fill="none" stroke-linejoin="miter"/>
<text x="226.7" y="359.9" font-size="7.95" text-anchor="middle">p=&lt;0.0001</text>
<path d="M186.1 383.8V378.5H252.5V383.8" stroke="#000" stroke-width="1.25" fill="none" stroke-linejoin="miter"/>
<text x="221.2" y="375.5" font-size="7.95" text-anchor="middle">p=&lt;0.0001</text>
<path d="M186.1 399.2V393.9H234.6V399.2" stroke="#000" stroke-width="1.25" fill="none" stroke-linejoin="miter"/>
<text x="211.1" y="390.9" font-size="7.95" text-anchor="middle">p=&lt;0.0001</text>
<path d="M186.1 414.3V409.0H221.2V414.3" stroke="#000" stroke-width="1.25" fill="none" stroke-linejoin="miter"/>
<text x="201.8" y="406.3" font-size="7.95" text-anchor="middle">p=0.5466</text>
<path d="M186.1 430.2V424.9H204.4V430.2" stroke="#000" stroke-width="1.25" fill="none" stroke-linejoin="miter"/>
<text x="194.2" y="421.4" font-size="7.95" text-anchor="middle">p=&lt;0.0001</text>
<path d="M264.0 448.7V443.4H313.4V448.7" stroke="#000" stroke-width="1.25" fill="none" stroke-linejoin="miter"/>
<text x="293.6" y="438.8" font-size="7.95" text-anchor="middle">p=&gt;0.9999</text>
<path d="M264.0 463.1V457.8H299.6V463.1" stroke="#000" stroke-width="1.25" fill="none" stroke-linejoin="miter"/>
<text x="283.8" y="453.7" font-size="7.95" text-anchor="middle">p=&lt;0.0001</text>
<path d="M264.0 477.1V471.8H283.2V477.1" stroke="#000" stroke-width="1.25" fill="none" stroke-linejoin="miter"/>
<text x="275.6" y="469.4" font-size="7.95" text-anchor="middle">p=0.3583</text>
<text x="372.3" y="357.0" font-size="12" font-weight="bold">d</text>
<path d="M401.7 407.1L401.7 596.1" stroke="#000" stroke-width="1.7" stroke-linecap="butt" fill="none"/>
<path d="M393.9 595.2L401.7 595.2" stroke="#000" stroke-width="1.7" stroke-linecap="butt" fill="none"/>
<text x="391.7" y="599.2" font-size="10.4" text-anchor="end">0</text>
<path d="M393.9 532.8L401.7 532.8" stroke="#000" stroke-width="1.7" stroke-linecap="butt" fill="none"/>
<text x="391.7" y="536.8" font-size="10.4" text-anchor="end">20</text>
<path d="M393.9 470.4L401.7 470.4" stroke="#000" stroke-width="1.7" stroke-linecap="butt" fill="none"/>
<text x="391.7" y="474.4" font-size="10.4" text-anchor="end">40</text>
<path d="M393.9 408.0L401.7 408.0" stroke="#000" stroke-width="1.7" stroke-linecap="butt" fill="none"/>
<text x="391.7" y="412.0" font-size="10.4" text-anchor="end">60</text>
<path d="M401.0 595.2L683.0 595.2" stroke="#000" stroke-width="1.7" stroke-linecap="butt" fill="none"/>
<path d="M413.0 595.2L413.0 603.9" stroke="#000" stroke-width="1.7" stroke-linecap="butt" fill="none"/>
<path d="M430.2 595.2L430.2 603.9" stroke="#000" stroke-width="1.7" stroke-linecap="butt" fill="none"/>
<path d="M447.4 595.2L447.4 603.9" stroke="#000" stroke-width="1.7" stroke-linecap="butt" fill="none"/>
<path d="M464.5 595.2L464.5 603.9" stroke="#000" stroke-width="1.7" stroke-linecap="butt" fill="none"/>
<path d="M481.7 595.2L481.7 603.9" stroke="#000" stroke-width="1.7" stroke-linecap="butt" fill="none"/>
<path d="M498.9 595.2L498.9 603.9" stroke="#000" stroke-width="1.7" stroke-linecap="butt" fill="none"/>
<path d="M516.1 595.2L516.1 603.9" stroke="#000" stroke-width="1.7" stroke-linecap="butt" fill="none"/>
<path d="M533.3 595.2L533.3 603.9" stroke="#000" stroke-width="1.7" stroke-linecap="butt" fill="none"/>
<path d="M550.4 595.2L550.4 603.9" stroke="#000" stroke-width="1.7" stroke-linecap="butt" fill="none"/>
<path d="M567.6 595.2L567.6 603.9" stroke="#000" stroke-width="1.7" stroke-linecap="butt" fill="none"/>
<path d="M584.8 595.2L584.8 603.9" stroke="#000" stroke-width="1.7" stroke-linecap="butt" fill="none"/>
<path d="M602.0 595.2L602.0 603.9" stroke="#000" stroke-width="1.7" stroke-linecap="butt" fill="none"/>
<path d="M619.2 595.2L619.2 603.9" stroke="#000" stroke-width="1.7" stroke-linecap="butt" fill="none"/>
<path d="M636.3 595.2L636.3 603.9" stroke="#000" stroke-width="1.7" stroke-linecap="butt" fill="none"/>
<path d="M653.5 595.2L653.5 603.9" stroke="#000" stroke-width="1.7" stroke-linecap="butt" fill="none"/>
<path d="M670.7 595.2L670.7 603.9" stroke="#000" stroke-width="1.7" stroke-linecap="butt" fill="none"/>
<text transform="translate(361.9 498.0) rotate(-90)" font-size="10.4" text-anchor="middle">No. of RAD51 foci per mitosin</text>
<text transform="translate(373.0 497.7) rotate(-90)" font-size="10.4" text-anchor="middle">+ve nuclei</text>
<text transform="translate(416.8 606.8) rotate(-90)" font-size="10.4" text-anchor="end">siControl</text>
<text transform="translate(434.0 606.8) rotate(-90)" font-size="10.4" text-anchor="end">siACTG1</text>
<text transform="translate(451.2 606.8) rotate(-90)" font-size="10.4" text-anchor="end">siACTB</text>
<text transform="translate(468.3 606.8) rotate(-90)" font-size="10.4" text-anchor="end">siARPC4</text>
<text transform="translate(485.5 606.8) rotate(-90)" font-size="10.4" text-anchor="end">siDIAPH1</text>
<text transform="translate(502.7 606.8) rotate(-90)" font-size="10.4" text-anchor="end">siACTG1</text>
<text transform="translate(519.9 606.8) rotate(-90)" font-size="10.4" text-anchor="end">siACTB</text>
<text transform="translate(537.1 606.8) rotate(-90)" font-size="10.4" text-anchor="end">siARPC4</text>
<text transform="translate(554.2 606.8) rotate(-90)" font-size="10.4" text-anchor="end">siControl</text>
<text transform="translate(571.4 606.8) rotate(-90)" font-size="10.4" text-anchor="end">siACTG1</text>
<text transform="translate(588.6 606.8) rotate(-90)" font-size="10.4" text-anchor="end">siACTB</text>
<text transform="translate(605.8 606.8) rotate(-90)" font-size="10.4" text-anchor="end">siARPC4</text>
<text transform="translate(623.0 606.8) rotate(-90)" font-size="10.4" text-anchor="end">siDIAPH1</text>
<text transform="translate(640.1 606.8) rotate(-90)" font-size="10.4" text-anchor="end">siACTG1</text>
<text transform="translate(657.3 606.8) rotate(-90)" font-size="10.4" text-anchor="end">siACTB</text>
<text transform="translate(674.5 606.8) rotate(-90)" font-size="10.4" text-anchor="end">siARPC4</text>
<path d="M493.1 656.3L538.9 656.3" stroke="#000" stroke-width="1.1" stroke-linecap="butt" fill="none"/>
<text x="515.5" y="671.2" font-size="10.3" text-anchor="middle">+ siDIAPH1</text>
<path d="M630.8 656.3L676.5 656.3" stroke="#000" stroke-width="1.1" stroke-linecap="butt" fill="none"/>
<text x="653.3" y="671.2" font-size="10.3" text-anchor="middle">+ siDIAPH1</text>
<path d="M413.2 451.7h0M412.8 457.8h0M412.9 482.9h0M412.7 479.9h0M413.2 476.6h0M412.7 473.6h0M412.9 470.5h0M413.0 467.3h0M412.1 492.4h0M414.1 492.4h0M412.2 489.1h0M413.8 489.1h0M412.4 486.1h0M414.0 486.1h0M410.9 507.9h0M412.9 507.9h0M415.2 507.9h0M410.4 504.8h0M413.0 504.7h0M415.6 504.6h0M410.9 501.7h0M412.8 501.7h0M415.4 501.7h0M410.7 498.5h0M413.3 498.4h0M415.5 498.4h0M410.5 495.2h0M413.2 495.3h0M415.5 495.3h0M412.3 520.4h0M413.6 520.3h0M412.3 517.1h0M413.9 517.1h0M412.1 514.2h0M414.1 514.2h0M412.1 511.0h0M414.0 511.0h0M412.1 551.6h0M413.8 551.7h0M412.1 548.3h0M414.0 548.3h0M412.3 545.1h0M414.1 545.3h0M412.3 542.0h0M413.9 542.1h0M412.0 539.1h0M413.6 539.0h0M411.9 536.0h0M414.1 535.8h0M412.1 532.8h0M414.0 532.9h0M412.1 529.8h0M413.7 529.6h0M412.3 526.4h0M413.7 526.6h0M412.1 523.3h0M414.1 523.4h0M412.3 588.9h0M414.1 588.9h0M412.4 585.9h0M414.1 585.9h0M412.2 582.7h0M414.1 582.7h0M411.9 579.7h0M414.0 579.7h0M412.3 576.4h0M413.8 576.6h0M412.4 573.5h0M413.6 573.4h0M412.2 570.2h0M413.7 570.1h0M412.1 567.1h0M413.7 567.1h0M412.2 564.1h0M413.9 563.9h0M412.4 560.8h0M414.1 561.0h0M411.9 557.8h0M414.1 557.7h0M412.2 554.6h0M413.6 554.6h0M409.2 595.1h0M411.3 595.2h0M413.3 595.3h0M414.7 595.3h0M416.7 595.2h0M409.6 592.1h0M411.1 592.1h0M412.9 592.2h0M414.6 592.2h0M416.3 591.9h0" stroke="#000" stroke-width="3.55" stroke-linecap="round" fill="none"/>
<path d="M430.2 507.8h0M430.2 532.7h0M430.4 529.7h0M430.3 526.7h0M430.5 523.5h0M430.3 520.2h0M429.9 517.2h0M430.5 514.0h0M429.4 570.1h0M431.0 570.4h0M429.4 567.2h0M430.7 567.0h0M429.1 564.1h0M430.8 564.1h0M429.2 561.0h0M431.0 560.8h0M429.6 557.7h0M431.1 557.6h0M429.5 554.8h0M430.8 554.7h0M429.2 551.4h0M430.9 551.6h0M429.6 548.5h0M431.3 548.4h0M429.4 545.2h0M431.2 545.3h0M429.2 542.3h0M430.9 542.1h0M429.1 538.9h0M431.1 539.1h0M429.1 535.9h0M431.1 535.9h0M429.3 589.0h0M430.7 588.8h0M429.3 585.8h0M431.2 585.8h0M429.5 582.6h0M430.8 582.7h0M429.3 579.6h0M431.2 579.5h0M429.4 576.6h0M431.0 576.5h0M429.6 573.4h0M430.8 573.2h0M426.3 595.1h0M428.1 595.2h0M430.1 595.1h0M432.0 595.3h0M433.6 595.1h0M426.5 592.0h0M428.6 592.1h0M430.1 592.0h0M431.7 592.0h0M434.0 592.1h0" stroke="#000" stroke-width="3.55" stroke-linecap="round" fill="none"/>
<path d="M447.2 470.4h0M447.1 467.3h0M447.3 464.0h0M446.7 551.6h0M448.2 551.4h0M446.6 548.4h0M448.3 548.3h0M446.8 545.1h0M448.0 545.2h0M446.3 542.0h0M448.3 542.3h0M446.4 539.0h0M448.3 539.0h0M446.5 536.0h0M448.2 535.8h0M446.3 532.8h0M448.5 532.9h0M446.3 529.7h0M448.2 529.6h0M446.6 526.6h0M448.4 526.5h0M446.8 523.5h0M448.2 523.3h0M446.5 520.2h0M448.3 520.4h0M446.6 517.3h0M447.9 517.3h0M446.7 514.0h0M448.1 513.9h0M446.6 511.0h0M448.1 511.0h0M446.4 507.9h0M448.1 508.0h0M446.5 504.6h0M448.0 504.8h0M446.7 501.6h0M448.0 501.7h0M446.6 498.4h0M448.1 498.5h0M446.2 495.2h0M448.1 495.5h0M446.8 492.2h0M448.5 492.3h0M446.7 489.1h0M448.5 489.2h0M446.8 486.0h0M448.0 486.0h0M446.5 482.8h0M448.1 482.9h0M446.6 479.7h0M448.1 479.8h0M446.5 476.6h0M448.3 476.5h0M446.5 473.5h0M448.4 473.6h0M447.5 557.8h0M447.2 564.1h0M447.4 567.1h0M446.4 588.9h0M448.3 589.1h0M446.5 585.9h0M448.0 585.8h0M446.4 582.7h0M448.1 582.8h0M446.7 579.5h0M448.1 579.7h0M446.6 576.5h0M448.3 576.5h0M446.4 573.2h0M448.1 573.2h0M444.0 595.2h0M445.7 595.3h0M447.5 595.1h0M449.1 595.1h0M451.1 595.3h0M443.8 592.0h0M445.4 592.1h0M447.5 592.2h0M449.4 592.2h0M450.9 592.1h0" stroke="#000" stroke-width="3.55" stroke-linecap="round" fill="none"/>
<path d="M464.4 476.8h0M464.4 492.1h0M463.6 551.6h0M465.6 551.5h0M463.9 548.5h0M465.3 548.3h0M463.9 545.2h0M465.2 545.4h0M463.7 542.1h0M465.4 542.1h0M463.4 539.0h0M465.3 538.9h0M463.6 536.0h0M465.3 536.0h0M463.8 532.7h0M465.1 532.9h0M463.8 529.6h0M465.2 529.8h0M463.9 526.5h0M465.4 526.6h0M463.6 523.3h0M465.3 523.5h0M463.8 520.3h0M465.2 520.2h0M463.6 517.2h0M465.3 517.3h0M463.5 514.2h0M465.2 514.2h0M463.5 511.0h0M465.3 510.8h0M463.9 507.9h0M465.3 507.9h0M463.7 504.9h0M465.1 504.7h0M463.5 501.6h0M465.6 501.7h0M463.7 498.4h0M465.6 498.4h0M462.0 561.0h0M464.5 561.0h0M466.6 560.9h0M462.0 557.6h0M464.3 557.6h0M466.8 557.7h0M462.2 554.6h0M464.7 554.6h0M467.2 554.5h0M463.7 589.0h0M465.3 589.1h0M463.5 586.0h0M465.3 585.8h0M463.8 582.7h0M465.3 582.6h0M464.0 579.6h0M465.2 579.6h0M463.7 576.4h0M465.3 576.6h0M463.6 573.3h0M465.7 573.3h0M463.6 570.1h0M465.5 570.3h0M463.7 567.1h0M465.2 567.2h0M463.7 564.1h0M465.3 564.1h0M460.7 595.1h0M463.0 595.3h0M464.6 595.2h0M466.3 595.1h0M467.9 595.2h0M461.1 592.0h0M462.8 592.0h0M464.6 592.0h0M466.3 592.0h0M468.2 592.0h0" stroke="#000" stroke-width="3.55" stroke-linecap="round" fill="none"/>
<path d="M481.7 492.3h0M481.5 504.7h0M481.8 501.6h0M480.9 551.6h0M482.6 551.4h0M480.8 548.5h0M482.6 548.5h0M480.8 545.3h0M482.9 545.4h0M481.0 542.0h0M482.6 542.0h0M481.1 539.2h0M482.7 539.0h0M481.1 535.8h0M482.8 535.9h0M480.6 532.9h0M482.5 532.9h0M481.0 529.7h0M482.8 529.6h0M481.1 526.5h0M482.3 526.5h0M480.6 523.3h0M482.6 523.3h0M480.7 520.3h0M482.4 520.4h0M481.1 517.3h0M482.9 517.2h0M481.0 514.0h0M482.8 514.2h0M481.0 510.9h0M482.3 511.1h0M479.4 579.6h0M481.9 579.5h0M484.2 579.6h0M479.5 576.5h0M481.5 576.6h0M483.9 576.6h0M479.6 573.3h0M481.8 573.3h0M483.9 573.3h0M479.6 570.2h0M481.7 570.2h0M483.8 570.3h0M479.5 567.2h0M481.6 567.0h0M484.0 567.2h0M479.5 564.0h0M481.7 563.9h0M484.3 564.0h0M479.4 561.0h0M481.5 560.9h0M484.0 561.0h0M479.1 557.7h0M481.8 557.8h0M484.0 557.8h0M479.2 554.6h0M481.4 554.7h0M483.9 554.7h0M480.9 589.0h0M482.6 588.8h0M481.0 585.8h0M482.8 585.9h0M481.0 582.8h0M482.5 582.8h0M478.4 595.1h0M479.7 595.2h0M481.7 595.1h0M483.4 595.3h0M485.3 595.1h0M477.9 592.1h0M479.7 592.1h0M481.7 592.1h0M483.5 592.2h0M485.0 592.2h0" stroke="#000" stroke-width="3.55" stroke-linecap="round" fill="none"/>
<path d="M498.7 489.0h0M499.1 532.8h0M498.9 529.6h0M499.1 526.5h0M499.0 523.4h0M498.9 520.4h0M498.8 517.2h0M498.6 514.1h0M499.0 510.9h0M498.9 507.9h0M498.7 504.8h0M499.1 501.5h0M498.7 498.4h0M498.8 495.2h0M498.9 567.0h0M498.8 564.0h0M498.8 561.0h0M499.0 557.6h0M498.7 554.5h0M498.8 551.4h0M499.0 548.5h0M499.2 545.2h0M498.6 542.2h0M498.8 539.2h0M498.0 588.9h0M499.5 589.1h0M498.1 585.8h0M499.7 585.9h0M498.2 582.7h0M499.6 582.7h0M498.3 579.6h0M499.8 579.6h0M498.0 576.5h0M499.6 576.5h0M498.3 573.2h0M499.7 573.5h0M498.3 570.1h0M499.8 570.3h0M495.5 595.2h0M496.9 595.1h0M499.0 595.3h0M500.5 595.2h0M502.6 595.2h0M495.0 592.1h0M497.0 592.1h0M498.8 592.0h0M500.8 592.0h0M502.7 592.0h0" stroke="#000" stroke-width="3.55" stroke-linecap="round" fill="none"/>
<path d="M516.1 483.0h0M515.8 479.8h0M515.8 476.8h0M515.8 473.6h0M516.0 489.0h0M516.0 511.0h0M516.0 507.7h0M516.1 504.7h0M516.4 501.6h0M516.0 498.4h0M516.4 495.3h0M516.2 520.4h0M516.0 526.6h0M515.9 563.9h0M515.8 560.9h0M516.3 557.7h0M516.0 554.7h0M515.9 551.4h0M516.1 548.4h0M516.3 545.4h0M515.9 542.2h0M516.0 538.9h0M516.0 536.0h0M516.0 532.8h0M515.4 588.8h0M517.2 588.8h0M515.1 585.9h0M516.6 585.8h0M515.0 582.7h0M516.6 582.6h0M515.1 579.5h0M516.7 579.5h0M515.2 576.4h0M517.1 576.5h0M515.1 573.3h0M517.1 573.2h0M515.4 570.1h0M517.2 570.2h0M515.3 567.2h0M516.7 567.0h0M512.6 595.2h0M514.4 595.1h0M516.1 595.1h0M517.8 595.1h0M519.7 595.1h0M512.3 592.1h0M514.0 592.2h0M516.1 592.0h0M517.6 592.1h0M519.7 592.1h0" stroke="#000" stroke-width="3.55" stroke-linecap="round" fill="none"/>
<path d="M533.2 498.5h0M533.5 495.3h0M533.5 492.4h0M533.6 489.3h0M533.1 486.1h0M533.3 517.1h0M533.6 514.1h0M533.4 511.0h0M533.0 507.9h0M533.1 504.6h0M533.3 563.9h0M533.2 560.9h0M533.0 557.8h0M533.0 554.6h0M533.3 551.6h0M533.0 548.3h0M533.5 545.2h0M533.2 542.1h0M533.4 539.1h0M533.4 535.9h0M533.3 532.8h0M533.1 529.8h0M533.5 526.6h0M533.6 523.4h0M532.6 588.9h0M534.3 589.0h0M532.7 585.9h0M534.3 585.8h0M532.6 582.7h0M534.0 582.7h0M532.6 579.7h0M534.3 579.7h0M532.2 576.4h0M534.2 576.4h0M532.3 573.2h0M533.9 573.4h0M532.2 570.3h0M534.0 570.3h0M532.3 567.1h0M534.0 567.0h0M529.6 595.2h0M531.2 595.3h0M533.2 595.1h0M535.3 595.1h0M536.7 595.1h0M529.4 592.1h0M531.5 592.1h0M533.1 592.0h0M535.3 592.0h0M537.2 592.2h0" stroke="#000" stroke-width="3.55" stroke-linecap="round" fill="none"/>
<path d="M550.2 511.1h0M550.2 507.9h0M550.6 504.8h0M550.5 501.7h0M550.2 582.7h0M550.3 579.6h0M550.3 576.5h0M550.5 573.4h0M550.5 570.3h0M550.7 567.2h0M550.5 563.9h0M550.7 560.8h0M550.2 557.7h0M550.6 554.8h0M550.5 551.6h0M550.7 548.5h0M550.4 545.3h0M550.6 542.1h0M550.2 539.1h0M550.6 535.8h0M550.6 532.9h0M550.2 529.6h0M550.4 526.5h0M550.7 523.6h0M550.4 520.4h0M549.7 588.9h0M551.6 588.9h0M549.3 585.8h0M551.0 585.8h0M546.8 595.3h0M548.6 595.3h0M550.6 595.2h0M552.1 595.1h0M554.0 595.2h0M546.9 592.1h0M548.5 592.1h0M550.7 592.0h0M552.1 591.9h0M553.8 591.9h0" stroke="#999" stroke-width="3.55" stroke-linecap="round" fill="none"/>
<path d="M567.6 517.3h0M567.7 514.2h0M567.8 523.5h0M567.7 529.5h0M567.6 560.8h0M567.7 557.6h0M567.6 554.6h0M567.6 551.5h0M567.4 548.5h0M567.8 545.3h0M567.4 542.2h0M567.8 539.2h0M567.8 535.8h0M567.8 585.9h0M567.5 582.8h0M567.8 579.7h0M567.5 576.5h0M567.5 573.3h0M567.8 570.3h0M567.5 567.1h0M567.0 589.0h0M568.7 589.0h0M564.3 595.1h0M565.8 595.2h0M567.8 595.3h0M569.5 595.2h0M571.3 595.2h0M564.1 592.2h0M565.5 592.0h0M567.8 591.9h0M569.6 591.9h0M571.3 592.2h0" stroke="#999" stroke-width="3.55" stroke-linecap="round" fill="none"/>
<path d="M584.6 529.6h0M584.6 526.6h0M584.8 585.9h0M584.7 582.7h0M585.1 579.7h0M585.1 576.4h0M584.8 573.3h0M584.7 570.3h0M584.6 567.1h0M585.0 564.1h0M584.5 560.8h0M584.8 557.9h0M584.6 554.7h0M584.7 551.5h0M585.1 548.3h0M584.7 545.2h0M584.6 542.1h0M584.9 539.1h0M584.6 536.0h0M584.0 588.9h0M585.8 589.1h0M581.0 595.3h0M583.2 595.1h0M584.5 595.3h0M586.8 595.1h0M588.6 595.3h0M581.3 592.2h0M583.3 592.0h0M585.0 592.2h0M586.5 592.1h0M588.5 592.2h0" stroke="#999" stroke-width="3.55" stroke-linecap="round" fill="none"/>
<path d="M602.0 579.5h0M601.8 576.5h0M601.8 573.5h0M602.2 570.2h0M602.1 567.2h0M601.8 564.1h0M602.1 560.8h0M601.7 557.7h0M602.1 554.6h0M602.2 551.4h0M601.7 548.4h0M602.2 545.2h0M601.7 542.2h0M601.7 539.1h0M601.7 535.8h0M602.1 532.9h0M601.9 529.7h0M600.8 585.8h0M602.7 585.9h0M601.3 582.8h0M602.8 582.8h0M599.4 588.9h0M601.9 588.9h0M604.5 588.9h0M598.3 595.1h0M600.4 595.2h0M602.0 595.2h0M604.0 595.3h0M605.5 595.2h0M598.6 592.0h0M600.0 592.0h0M602.0 592.2h0M603.6 592.1h0M605.9 592.1h0" stroke="#999" stroke-width="3.55" stroke-linecap="round" fill="none"/>
<path d="M619.1 507.9h0M619.4 504.7h0M618.9 501.6h0M619.3 586.0h0M619.3 582.7h0M619.2 579.5h0M619.1 576.5h0M619.4 573.5h0M619.4 570.2h0M619.4 567.0h0M619.4 564.0h0M619.4 560.9h0M619.5 557.6h0M619.4 554.7h0M619.1 551.6h0M619.0 548.5h0M619.1 545.3h0M619.0 542.3h0M619.3 538.9h0M619.4 535.8h0M619.1 532.8h0M619.2 529.8h0M619.4 526.6h0M619.1 523.3h0M618.9 520.3h0M619.2 517.2h0M619.4 514.1h0M618.2 588.9h0M619.8 589.1h0M615.6 595.2h0M617.3 595.1h0M619.0 595.2h0M620.9 595.3h0M622.8 595.1h0M615.3 592.0h0M617.3 592.2h0M619.4 592.0h0M621.1 592.1h0M622.8 592.1h0" stroke="#999" stroke-width="3.55" stroke-linecap="round" fill="none"/>
<path d="M636.1 585.7h0M636.4 582.8h0M636.3 579.7h0M636.5 576.4h0M636.1 573.4h0M636.4 570.2h0M636.1 567.1h0M636.1 564.1h0M636.4 560.8h0M636.3 557.7h0M636.2 554.5h0M636.5 551.5h0M636.5 548.4h0M636.5 545.3h0M636.4 542.1h0M636.4 538.9h0M636.6 536.0h0M636.4 532.8h0M636.1 529.6h0M635.3 589.1h0M636.9 588.9h0M633.0 595.3h0M634.7 595.1h0M636.2 595.3h0M638.0 595.3h0M639.8 595.3h0M632.8 592.2h0M634.8 592.0h0M636.6 591.9h0M638.4 591.9h0M640.0 592.0h0" stroke="#999" stroke-width="3.55" stroke-linecap="round" fill="none"/>
<path d="M653.7 526.5h0M653.3 523.5h0M653.6 532.9h0M653.5 585.7h0M653.7 582.6h0M653.5 579.5h0M653.4 576.5h0M653.7 573.4h0M653.5 570.3h0M653.6 567.0h0M653.5 564.0h0M653.7 560.8h0M653.4 557.7h0M653.3 554.6h0M653.7 551.5h0M653.3 548.5h0M653.3 545.4h0M653.3 542.0h0M653.4 539.0h0M651.0 589.1h0M653.8 588.9h0M656.0 589.0h0M650.0 595.1h0M652.0 595.3h0M653.2 595.1h0M655.2 595.1h0M657.1 595.3h0M649.6 592.2h0M651.6 591.9h0M653.8 592.0h0M655.1 592.0h0M657.0 592.0h0" stroke="#999" stroke-width="3.55" stroke-linecap="round" fill="none"/>
<path d="M670.5 482.8h0M670.7 492.2h0M670.6 514.1h0M670.9 511.0h0M670.6 508.0h0M670.9 504.7h0M670.7 520.3h0M670.5 529.8h0M670.8 545.2h0M671.0 542.3h0M670.4 585.9h0M670.5 582.7h0M670.9 579.6h0M670.7 576.5h0M670.5 573.4h0M670.7 570.4h0M670.5 567.2h0M670.4 563.9h0M670.5 560.8h0M670.7 557.7h0M670.9 554.5h0M670.8 551.6h0M669.6 588.9h0M671.7 589.0h0M667.4 595.2h0M668.8 595.3h0M670.6 595.3h0M672.7 595.1h0M674.3 595.3h0M666.9 592.2h0M669.1 592.2h0M670.8 592.0h0M672.8 592.0h0M674.5 592.1h0" stroke="#999" stroke-width="3.55" stroke-linecap="round" fill="none"/>
<path d="M406.1 523.4H419.9" stroke="#ff3314" stroke-width="2.6" fill="none"/>
<path d="M423.3 576.5H437.1" stroke="#ff3314" stroke-width="2.6" fill="none"/>
<path d="M440.5 532.8H454.3" stroke="#ff3314" stroke-width="2.6" fill="none"/>
<path d="M457.6 567.1H471.4" stroke="#ff3314" stroke-width="2.6" fill="none"/>
<path d="M474.8 567.1H488.6" stroke="#ff3314" stroke-width="2.6" fill="none"/>
<path d="M492.0 579.6H505.8" stroke="#ff3314" stroke-width="2.6" fill="none"/>
<path d="M509.2 582.7H523.0" stroke="#ff3314" stroke-width="2.6" fill="none"/>
<path d="M526.4 576.5H540.2" stroke="#ff3314" stroke-width="2.6" fill="none"/>
<path d="M543.5 592.1H557.3" stroke="#ff3314" stroke-width="2.6" fill="none"/>
<path d="M560.7 595.2H574.5" stroke="#ff3314" stroke-width="2.6" fill="none"/>
<path d="M577.9 592.1H591.7" stroke="#ff3314" stroke-width="2.6" fill="none"/>
<path d="M595.1 586.5H608.9" stroke="#ff3314" stroke-width="2.6" fill="none"/>
<path d="M612.3 592.1H626.1" stroke="#ff3314" stroke-width="2.6" fill="none"/>
<path d="M629.4 592.1H643.2" stroke="#ff3314" stroke-width="2.6" fill="none"/>
<path d="M646.6 589.3H660.4" stroke="#ff3314" stroke-width="2.6" fill="none"/>
<path d="M663.8 592.1H677.6" stroke="#ff3314" stroke-width="2.6" fill="none"/>
<path d="M413.8 362.2V356.9H481.3V362.2" stroke="#000" stroke-width="1.25" fill="none" stroke-linejoin="miter"/>
<text x="448.3" y="353.7" font-size="7.95" text-anchor="middle">p=&lt;0.0001</text>
<path d="M413.8 377.1V371.8H462.9V377.1" stroke="#000" stroke-width="1.25" fill="none" stroke-linejoin="miter"/>
<text x="439.1" y="368.2" font-size="7.95" text-anchor="middle">p=&lt;0.0001</text>
<path d="M413.8 392.5V387.2H448.5V392.5" stroke="#000" stroke-width="1.25" fill="none" stroke-linejoin="miter"/>
<text x="430.9" y="382.9" font-size="7.95" text-anchor="middle">p=0.0037</text>
<path d="M413.8 408.1V402.8H432.7V408.1" stroke="#000" stroke-width="1.25" fill="none" stroke-linejoin="miter"/>
<text x="421.1" y="397.8" font-size="7.95" text-anchor="middle">p=&lt;0.0001</text>
<path d="M479.1 437.9V432.6H528.2V437.9" stroke="#000" stroke-width="1.25" fill="none" stroke-linejoin="miter"/>
<text x="506.6" y="428.6" font-size="7.95" text-anchor="middle">p=0.0004</text>
<path d="M479.1 452.8V447.5H514.3V452.8" stroke="#000" stroke-width="1.25" fill="none" stroke-linejoin="miter"/>
<text x="499.1" y="443.6" font-size="7.95" text-anchor="middle">p=&lt;0.0001</text>
<path d="M479.1 467.4V462.1H498.4V467.4" stroke="#000" stroke-width="1.25" fill="none" stroke-linejoin="miter"/>
<text x="489.6" y="458.0" font-size="7.95" text-anchor="middle">p=0.0001</text>
<path d="M549.9 475.6V470.0H671.1V475.6" stroke="#000" stroke-width="1.2" fill="none" stroke-linejoin="miter"/>
<text x="608.4" y="467.2" font-size="10.1" text-anchor="middle">+ mirin</text>
<text x="9.3" y="718.6" font-size="12" font-weight="bold">e</text>
<text x="107.3" y="734.0" font-size="10.4" text-anchor="middle" font-weight="bold">Untreated</text>
<text x="241.2" y="734.7" font-size="10.4" text-anchor="middle" font-weight="bold">4 h post-CPT</text>
<text transform="translate(12.4 843.3) rotate(-90)" font-size="10.4" text-anchor="middle">No. of RAD51 foci per mitosin</text>
<text transform="translate(23.7 842.2) rotate(-90)" font-size="10.4" text-anchor="middle">+ve nuclei</text>
<path d="M55.0 764.2L55.0 925.2" stroke="#000" stroke-width="1.7" stroke-linecap="butt" fill="none"/>
<path d="M48.2 924.4L55.0 924.4" stroke="#000" stroke-width="1.7" stroke-linecap="butt" fill="none"/>
<text x="46.5" y="928.4" font-size="10.4" text-anchor="end">0</text>
<path d="M48.2 871.3L55.0 871.3" stroke="#000" stroke-width="1.7" stroke-linecap="butt" fill="none"/>
<text x="46.5" y="875.3" font-size="10.4" text-anchor="end">20</text>
<path d="M48.2 818.2L55.0 818.2" stroke="#000" stroke-width="1.7" stroke-linecap="butt" fill="none"/>
<text x="46.5" y="822.2" font-size="10.4" text-anchor="end">40</text>
<path d="M48.2 765.1L55.0 765.1" stroke="#000" stroke-width="1.7" stroke-linecap="butt" fill="none"/>
<text x="46.5" y="769.1" font-size="10.4" text-anchor="end">60</text>
<path d="M54.3 924.4L162.6 924.4" stroke="#000" stroke-width="1.7" stroke-linecap="butt" fill="none"/>
<path d="M76.4 924.4L76.4 931.4" stroke="#000" stroke-width="1.7" stroke-linecap="butt" fill="none"/>
<path d="M108.5 924.4L108.5 931.4" stroke="#000" stroke-width="1.7" stroke-linecap="butt" fill="none"/>
<path d="M140.7 924.4L140.7 931.4" stroke="#000" stroke-width="1.7" stroke-linecap="butt" fill="none"/>
<text transform="translate(80.6 940.0) rotate(-45)" font-size="10.6" text-anchor="end">P1 + Vector</text>
<text transform="translate(112.7 940.0) rotate(-45)" font-size="10.6" text-anchor="end">P1 + DIAPH1 WT</text>
<text transform="translate(144.9 940.0) rotate(-45)" font-size="10.6" text-anchor="end">P1 + DIAPH1 I862A</text>
<path d="M76.3 895.3h0M76.3 892.6h0M76.1 890.0h0M76.3 887.3h0M76.4 884.7h0M76.3 881.9h0M76.1 879.3h0M76.1 876.7h0M76.5 873.9h0M75.7 900.7h0M77.7 900.4h0M75.5 897.9h0M77.5 897.7h0M75.7 903.1h0M77.5 903.3h0M74.2 908.3h0M76.0 908.4h0M76.7 908.3h0M78.7 908.6h0M74.2 905.7h0M76.0 905.9h0M77.1 905.7h0M78.3 906.0h0M73.1 913.8h0M74.6 914.0h0M76.1 913.9h0M78.1 913.9h0M79.1 913.8h0M73.4 911.1h0M74.7 911.1h0M76.6 911.0h0M78.2 911.1h0M79.2 911.0h0M74.4 919.1h0M75.8 919.2h0M77.1 919.1h0M78.7 919.0h0M74.1 916.4h0M75.6 916.3h0M77.0 916.3h0M78.7 916.4h0M67.7 924.5h0M69.1 924.5h0M70.3 924.5h0M71.7 924.4h0M73.5 924.5h0M74.7 924.3h0M76.6 924.5h0M78.2 924.3h0M79.2 924.3h0M81.1 924.5h0M82.5 924.5h0M83.9 924.4h0M85.7 924.5h0M67.5 921.8h0M68.9 921.8h0M70.5 921.6h0M71.8 921.7h0M73.4 921.8h0M74.8 921.7h0M76.3 921.7h0M78.2 921.6h0M79.1 921.8h0M80.8 921.7h0M82.5 921.7h0M83.7 921.6h0M85.7 921.9h0" stroke="#000" stroke-width="3.25" stroke-linecap="round" fill="none"/>
<path d="M108.4 868.6h0M108.4 876.5h0M108.8 874.1h0M108.3 900.4h0M108.6 898.0h0M108.5 895.2h0M108.3 892.6h0M108.8 890.0h0M108.2 887.3h0M108.8 884.7h0M107.5 905.7h0M109.2 905.9h0M107.2 903.3h0M109.6 903.2h0M106.8 911.3h0M107.9 911.0h0M109.2 911.1h0M110.3 911.3h0M106.7 908.3h0M107.6 908.4h0M109.2 908.4h0M110.5 908.6h0M106.3 916.5h0M107.7 916.6h0M109.5 916.4h0M110.6 916.3h0M106.4 913.8h0M107.9 913.7h0M108.8 913.6h0M110.5 913.7h0M103.4 919.1h0M105.2 919.1h0M106.2 919.1h0M107.6 919.2h0M109.0 919.0h0M110.6 919.2h0M111.8 919.0h0M113.2 919.0h0M99.4 924.4h0M101.2 924.4h0M102.5 924.4h0M104.2 924.5h0M105.4 924.5h0M106.8 924.6h0M108.5 924.5h0M109.9 924.3h0M111.2 924.5h0M112.9 924.5h0M114.5 924.4h0M115.8 924.3h0M117.4 924.5h0M99.5 921.6h0M101.1 921.7h0M102.2 921.7h0M103.8 921.9h0M105.5 921.7h0M106.8 921.7h0M108.3 921.7h0M110.2 921.8h0M111.6 921.9h0M113.1 921.6h0M114.2 921.6h0M115.8 921.8h0M117.7 921.8h0" stroke="#000" stroke-width="3.25" stroke-linecap="round" fill="none"/>
<path d="M140.7 881.8h0M141.0 879.4h0M140.6 887.1h0M141.0 897.8h0M140.9 895.1h0M140.8 892.5h0M141.0 889.8h0M139.4 903.1h0M141.9 903.3h0M139.8 900.6h0M141.5 900.4h0M136.4 908.6h0M138.0 908.5h0M139.8 908.4h0M141.5 908.6h0M142.9 908.4h0M144.8 908.5h0M136.7 905.7h0M138.6 905.7h0M139.7 905.7h0M141.5 905.8h0M143.1 905.9h0M145.0 905.8h0M137.4 913.9h0M138.9 913.7h0M140.5 913.8h0M142.4 913.7h0M143.6 913.9h0M137.8 911.0h0M139.3 911.2h0M140.6 911.0h0M142.3 911.1h0M143.4 911.0h0M137.6 919.0h0M139.1 919.1h0M140.7 919.1h0M142.4 918.9h0M143.6 919.2h0M138.0 916.6h0M139.4 916.4h0M140.9 916.5h0M141.9 916.3h0M143.4 916.6h0M131.6 924.4h0M133.2 924.3h0M134.8 924.5h0M136.4 924.5h0M137.6 924.3h0M139.4 924.5h0M140.6 924.3h0M142.0 924.5h0M143.7 924.5h0M145.1 924.3h0M146.7 924.5h0M148.5 924.3h0M149.8 924.4h0M132.0 921.8h0M133.2 921.7h0M134.5 921.9h0M136.4 921.7h0M137.4 921.6h0M139.5 921.6h0M140.9 921.8h0M142.2 921.8h0M143.6 921.8h0M144.9 921.9h0M146.4 921.6h0M148.3 921.8h0M149.9 921.8h0" stroke="#000" stroke-width="3.25" stroke-linecap="round" fill="none"/>
<path d="M63.1 913.5H89.7" stroke="#ff3314" stroke-width="2.6" fill="none"/>
<path d="M95.2 919.1H121.8" stroke="#ff3314" stroke-width="2.6" fill="none"/>
<path d="M127.4 916.2H154.0" stroke="#ff3314" stroke-width="2.6" fill="none"/>
<path d="M75.2 832.6V827.3H138.5V832.6" stroke="#000" stroke-width="1.25" fill="none" stroke-linejoin="miter"/>
<text x="110.2" y="822.9" font-size="7.95" text-anchor="middle">p=&gt;0.9999</text>
<path d="M75.2 852.2V846.9H106.2V852.2" stroke="#000" stroke-width="1.25" fill="none" stroke-linejoin="miter"/>
<text x="89.5" y="843.2" font-size="7.95" text-anchor="middle">p=0.0045</text>
<path d="M193.0 764.2L193.0 925.2" stroke="#000" stroke-width="1.7" stroke-linecap="butt" fill="none"/>
<path d="M186.4 924.4L193.0 924.4" stroke="#000" stroke-width="1.7" stroke-linecap="butt" fill="none"/>
<text x="185.5" y="928.4" font-size="10.4" text-anchor="end">0</text>
<path d="M186.4 871.3L193.0 871.3" stroke="#000" stroke-width="1.7" stroke-linecap="butt" fill="none"/>
<text x="185.5" y="875.3" font-size="10.4" text-anchor="end">20</text>
<path d="M186.4 818.2L193.0 818.2" stroke="#000" stroke-width="1.7" stroke-linecap="butt" fill="none"/>
<text x="185.5" y="822.2" font-size="10.4" text-anchor="end">40</text>
<path d="M186.4 765.1L193.0 765.1" stroke="#000" stroke-width="1.7" stroke-linecap="butt" fill="none"/>
<text x="185.5" y="769.1" font-size="10.4" text-anchor="end">60</text>
<path d="M192.3 924.4L301.0 924.4" stroke="#000" stroke-width="1.7" stroke-linecap="butt" fill="none"/>
<path d="M214.6 924.4L214.6 931.4" stroke="#000" stroke-width="1.7" stroke-linecap="butt" fill="none"/>
<path d="M246.9 924.4L246.9 931.4" stroke="#000" stroke-width="1.7" stroke-linecap="butt" fill="none"/>
<path d="M279.4 924.4L279.4 931.4" stroke="#000" stroke-width="1.7" stroke-linecap="butt" fill="none"/>
<text transform="translate(218.8 940.0) rotate(-45)" font-size="10.6" text-anchor="end">P1 + Vector</text>
<text transform="translate(251.1 940.0) rotate(-45)" font-size="10.6" text-anchor="end">P1 + DIAPH1 WT</text>
<text transform="translate(283.6 940.0) rotate(-45)" font-size="10.6" text-anchor="end">P1 + DIAPH1 I862A</text>
<path d="M214.9 799.5h0M214.3 807.5h0M214.8 831.4h0M214.6 828.9h0M214.4 826.2h0M214.9 823.6h0M214.5 820.8h0M214.4 818.4h0M214.8 815.6h0M214.5 813.0h0M212.5 834.2h0M213.8 834.3h0M215.4 834.1h0M216.7 834.2h0M213.6 884.7h0M215.3 884.7h0M213.7 881.9h0M215.9 881.8h0M213.4 879.3h0M215.9 879.2h0M213.9 876.7h0M215.3 876.5h0M213.3 874.0h0M215.5 873.9h0M213.5 871.2h0M215.9 871.4h0M213.6 868.6h0M215.5 868.7h0M213.4 866.2h0M216.0 866.1h0M213.8 863.2h0M215.4 863.3h0M213.3 860.7h0M216.0 860.8h0M213.9 857.9h0M215.5 857.9h0M213.4 855.2h0M215.7 855.3h0M213.7 852.7h0M215.7 852.6h0M213.7 850.1h0M215.8 850.0h0M213.5 847.3h0M215.3 847.4h0M213.6 844.6h0M215.9 844.9h0M213.8 842.2h0M215.6 842.0h0M213.4 839.5h0M216.0 839.3h0M213.2 836.7h0M215.5 836.8h0M211.2 898.0h0M212.9 898.0h0M214.5 897.8h0M215.9 898.0h0M217.8 898.0h0M211.1 895.2h0M213.2 895.4h0M214.9 895.1h0M216.1 895.4h0M217.8 895.4h0M211.3 892.4h0M213.3 892.5h0M214.6 892.5h0M216.2 892.7h0M218.1 892.7h0M211.3 890.0h0M212.7 889.9h0M214.9 889.8h0M216.1 889.9h0M217.6 890.0h0M211.6 887.1h0M213.3 887.1h0M214.7 887.2h0M215.9 887.1h0M218.1 887.3h0M211.4 903.3h0M213.4 903.3h0M214.6 903.1h0M216.2 903.3h0M217.9 903.2h0M211.7 900.5h0M213.1 900.6h0M214.4 900.6h0M215.8 900.5h0M217.8 900.4h0M209.6 911.1h0M210.6 911.1h0M212.4 911.1h0M213.5 911.0h0M215.5 911.0h0M216.7 911.2h0M218.6 911.3h0M219.6 911.0h0M209.5 908.5h0M210.8 908.3h0M212.3 908.4h0M213.9 908.6h0M215.1 908.3h0M217.0 908.3h0M218.2 908.4h0M220.2 908.4h0M209.2 905.8h0M210.6 905.8h0M212.5 905.8h0M214.1 905.7h0M215.1 905.9h0M216.8 906.0h0M218.1 905.9h0M220.0 905.8h0M211.2 919.1h0M213.2 919.1h0M214.6 919.2h0M216.3 919.1h0M217.5 919.1h0M211.5 916.6h0M213.4 916.5h0M214.5 916.3h0M216.3 916.5h0M217.6 916.5h0M211.8 913.7h0M213.3 913.8h0M214.7 913.9h0M216.0 913.7h0M218.1 913.6h0M207.1 924.4h0M208.9 924.4h0M210.5 924.5h0M211.3 924.2h0M212.8 924.4h0M214.3 924.4h0M216.2 924.3h0M217.8 924.4h0M219.3 924.4h0M220.6 924.4h0M221.8 924.5h0M206.9 921.7h0M208.6 921.9h0M210.2 921.6h0M211.5 921.8h0M213.3 921.6h0M214.8 921.7h0M216.1 921.7h0M217.5 921.9h0M219.3 921.9h0M220.6 921.8h0M221.7 921.6h0" stroke="#000" stroke-width="3.25" stroke-linecap="round" fill="none"/>
<path d="M247.1 786.4h0M247.0 796.9h0M246.7 805.1h0M246.9 802.1h0M245.7 810.2h0M247.6 810.4h0M246.1 807.7h0M247.6 807.6h0M243.5 815.6h0M245.5 815.6h0M247.1 815.4h0M248.1 815.4h0M250.3 815.7h0M243.8 812.8h0M245.6 812.8h0M246.8 812.7h0M248.8 812.9h0M250.2 813.0h0M245.9 823.7h0M248.1 823.7h0M246.2 820.7h0M248.1 820.8h0M245.7 818.1h0M248.3 818.0h0M241.6 828.7h0M243.5 828.8h0M244.8 828.8h0M246.3 828.8h0M247.6 828.9h0M249.3 829.0h0M250.5 828.9h0M252.3 828.8h0M241.6 826.2h0M242.9 826.0h0M244.5 826.0h0M245.8 826.2h0M247.8 826.2h0M248.9 826.2h0M250.9 826.2h0M252.0 826.2h0M244.7 839.4h0M246.0 839.6h0M247.7 839.6h0M248.8 839.4h0M244.8 836.6h0M246.1 836.8h0M247.6 836.9h0M249.1 836.8h0M244.9 834.2h0M246.1 834.0h0M247.9 834.2h0M248.7 834.0h0M244.6 831.5h0M245.9 831.3h0M247.6 831.3h0M248.8 831.4h0M238.3 841.9h0M239.9 842.0h0M241.4 842.1h0M243.0 842.0h0M244.3 842.2h0M246.3 842.1h0M247.3 842.0h0M249.5 842.1h0M250.5 842.2h0M252.5 842.0h0M253.8 842.1h0M255.0 842.0h0M240.7 844.8h0M242.3 844.8h0M243.7 844.6h0M245.0 844.9h0M247.2 844.9h0M248.2 844.8h0M249.8 844.7h0M251.4 844.9h0M253.4 844.9h0M243.7 850.2h0M245.2 850.1h0M247.0 850.0h0M248.4 849.9h0M250.3 849.9h0M243.5 847.3h0M245.4 847.5h0M246.9 847.5h0M248.7 847.3h0M250.1 847.3h0M242.5 857.9h0M243.8 858.0h0M245.8 858.1h0M246.6 857.9h0M248.4 858.0h0M249.4 857.9h0M251.1 858.1h0M242.4 855.5h0M243.9 855.4h0M245.5 855.3h0M247.2 855.3h0M248.2 855.4h0M249.9 855.5h0M251.3 855.4h0M242.9 852.8h0M244.4 852.9h0M245.7 852.6h0M246.9 852.7h0M248.1 852.8h0M249.5 852.8h0M251.1 852.7h0M244.9 868.7h0M246.5 868.8h0M247.8 868.6h0M249.1 868.6h0M245.1 866.0h0M246.1 865.8h0M247.6 866.0h0M248.9 865.9h0M244.8 863.2h0M246.0 863.3h0M247.5 863.3h0M249.0 863.3h0M244.5 860.5h0M246.2 860.8h0M247.4 860.6h0M248.9 860.8h0M243.7 871.4h0M245.0 871.2h0M246.7 871.3h0M248.4 871.3h0M250.4 871.3h0M241.7 876.8h0M243.2 876.6h0M244.9 876.6h0M245.8 876.8h0M247.7 876.6h0M248.8 876.7h0M250.6 876.7h0M252.0 876.8h0M241.6 873.9h0M243.4 873.9h0M244.5 874.0h0M246.5 873.8h0M247.4 874.1h0M248.9 873.9h0M250.8 874.0h0M252.4 873.8h0M245.1 889.8h0M246.4 889.9h0M247.9 889.9h0M248.8 889.8h0M244.8 887.1h0M246.0 887.4h0M247.7 887.4h0M248.8 887.2h0M244.8 884.4h0M246.0 884.7h0M247.8 884.6h0M249.1 884.7h0M245.1 882.0h0M245.9 882.1h0M247.4 881.8h0M248.7 881.9h0M244.9 879.3h0M246.2 879.1h0M247.8 879.3h0M248.9 879.4h0M245.1 892.7h0M246.5 892.4h0M247.5 892.5h0M248.8 892.6h0M246.1 916.3h0M248.0 916.6h0M246.1 913.8h0M247.7 913.8h0M245.9 911.2h0M247.7 911.0h0M246.2 908.3h0M248.0 908.3h0M246.0 905.8h0M248.2 905.7h0M246.1 903.1h0M247.6 903.0h0M245.6 900.5h0M248.3 900.5h0M246.0 897.7h0M248.0 897.9h0M245.6 895.2h0M247.9 895.1h0M246.1 919.2h0M247.7 919.0h0M240.3 924.3h0M242.3 924.6h0M244.1 924.5h0M245.1 924.5h0M247.1 924.4h0M248.8 924.4h0M249.8 924.3h0M251.4 924.4h0M253.3 924.5h0M240.3 921.6h0M242.5 921.7h0M243.6 921.9h0M245.1 921.8h0M247.2 921.8h0M248.6 921.6h0M250.1 921.8h0M251.8 921.8h0M252.9 921.6h0" stroke="#000" stroke-width="3.25" stroke-linecap="round" fill="none"/>
<path d="M279.5 791.5h0M279.1 796.9h0M279.6 871.3h0M279.3 868.8h0M279.5 865.9h0M279.4 863.5h0M279.3 860.7h0M279.5 858.2h0M279.5 855.3h0M279.5 852.7h0M279.4 850.1h0M279.1 847.4h0M279.3 844.8h0M279.6 842.1h0M279.5 839.4h0M279.2 836.8h0M279.4 834.0h0M279.6 831.5h0M279.3 828.7h0M279.6 826.3h0M279.7 823.4h0M279.1 820.9h0M279.1 818.3h0M279.5 815.5h0M279.4 813.0h0M279.2 810.2h0M279.6 807.6h0M278.4 897.7h0M280.3 897.8h0M278.0 895.2h0M280.5 895.3h0M278.4 892.7h0M280.4 892.5h0M278.2 889.9h0M280.8 889.9h0M278.0 887.2h0M280.2 887.3h0M278.4 884.6h0M280.7 884.7h0M278.1 881.8h0M280.6 882.0h0M278.5 879.3h0M280.1 879.2h0M278.6 876.6h0M280.1 876.5h0M278.6 874.0h0M280.2 874.0h0M278.6 919.2h0M280.6 919.2h0M278.1 916.4h0M280.7 916.4h0M278.1 913.9h0M280.6 913.6h0M278.0 911.1h0M280.8 911.2h0M278.6 908.3h0M280.5 908.4h0M278.2 905.7h0M280.4 905.7h0M278.5 903.2h0M280.7 903.3h0M278.1 900.6h0M280.5 900.7h0M272.0 924.3h0M273.7 924.3h0M275.3 924.4h0M276.7 924.4h0M277.8 924.5h0M279.5 924.4h0M280.7 924.4h0M282.5 924.3h0M283.6 924.4h0M285.4 924.2h0M286.6 924.6h0M271.9 921.8h0M273.4 921.6h0M275.0 921.9h0M276.7 921.6h0M278.1 921.8h0M279.4 921.8h0M280.9 921.6h0M282.5 921.6h0M283.7 921.9h0M285.3 921.7h0M286.9 921.7h0" stroke="#000" stroke-width="3.25" stroke-linecap="round" fill="none"/>
<path d="M201.2 894.7H228.0" stroke="#ff3314" stroke-width="2.6" fill="none"/>
<path d="M233.5 855.1H260.3" stroke="#ff3314" stroke-width="2.6" fill="none"/>
<path d="M266.0 897.1H292.8" stroke="#ff3314" stroke-width="2.6" fill="none"/>
<path d="M215.6 763.8V758.8H279.8V763.8" stroke="#000" stroke-width="1.25" fill="none" stroke-linejoin="miter"/>
<text x="250.6" y="754.6" font-size="7.95" text-anchor="middle">p=0.63</text>
<path d="M215.6 784.2V778.9H247.1V784.2" stroke="#000" stroke-width="1.25" fill="none" stroke-linejoin="miter"/>
<text x="229.5" y="774.5" font-size="7.95" text-anchor="middle">p=&lt;0.0001</text>
<text x="332.7" y="717.5" font-size="12" font-weight="bold">f</text>
<path d="M396.2 742.8L396.2 962.6" stroke="#000" stroke-width="1.7" stroke-linecap="butt" fill="none"/>
<path d="M387.6 961.8L396.2 961.8" stroke="#000" stroke-width="1.7" stroke-linecap="butt" fill="none"/>
<text x="384.6" y="966.3" font-size="10.4" text-anchor="end">0</text>
<path d="M387.6 918.2L396.2 918.2" stroke="#000" stroke-width="1.7" stroke-linecap="butt" fill="none"/>
<text x="384.6" y="922.7" font-size="10.4" text-anchor="end">5</text>
<path d="M387.6 874.5L396.2 874.5" stroke="#000" stroke-width="1.7" stroke-linecap="butt" fill="none"/>
<text x="384.6" y="879.0" font-size="10.4" text-anchor="end">10</text>
<path d="M387.6 830.9L396.2 830.9" stroke="#000" stroke-width="1.7" stroke-linecap="butt" fill="none"/>
<text x="384.6" y="835.4" font-size="10.4" text-anchor="end">15</text>
<path d="M387.6 787.3L396.2 787.3" stroke="#000" stroke-width="1.7" stroke-linecap="butt" fill="none"/>
<text x="384.6" y="791.8" font-size="10.4" text-anchor="end">20</text>
<path d="M387.6 743.7L396.2 743.7" stroke="#000" stroke-width="1.7" stroke-linecap="butt" fill="none"/>
<text x="384.6" y="748.2" font-size="10.4" text-anchor="end">25</text>
<path d="M387.6 962.0L543.2 962.0" stroke="#000" stroke-width="1.9" stroke-linecap="butt" fill="none"/>
<text transform="translate(348.9 855.0) rotate(-90)" font-size="10.4" text-anchor="middle">% RFP +ve/</text>
<text transform="translate(360.5 859.2) rotate(-90)" font-size="10.4" text-anchor="middle">mClover-LMNA +ve cells</text>
<rect x="401.6" y="810.4" width="9.5" height="151.4" fill="#000"/>
<rect x="401.6" y="810.4" width="9.5" height="151.4" fill="none" stroke="#000" stroke-width="1.1"/>
<path d="M406.4 801.3L406.4 810.4" stroke="#000" stroke-width="1.2" stroke-linecap="butt" fill="none"/>
<path d="M403.4 801.3L409.4 801.3" stroke="#000" stroke-width="1.2" stroke-linecap="butt" fill="none"/>
<rect x="417.1" y="888.9" width="9.5" height="72.9" fill="#fff"/>
<rect x="417.1" y="888.9" width="9.5" height="72.9" fill="none" stroke="#000" stroke-width="1.1"/>
<path d="M421.9 884.6L421.9 892.0" stroke="#000" stroke-width="1.2" stroke-linecap="butt" fill="none"/>
<path d="M418.9 884.6L424.9 884.6" stroke="#000" stroke-width="1.2" stroke-linecap="butt" fill="none"/>
<path d="M418.9 892.0L424.9 892.0" stroke="#000" stroke-width="1.2" stroke-linecap="butt" fill="none"/>
<rect x="432.8" y="867.1" width="9.5" height="94.7" fill="url(#chk)"/>
<rect x="432.8" y="867.1" width="9.5" height="94.7" fill="none" stroke="#000" stroke-width="1.1"/>
<path d="M437.5 858.0L437.5 875.4" stroke="#000" stroke-width="1.2" stroke-linecap="butt" fill="none"/>
<path d="M434.5 858.0L440.5 858.0" stroke="#000" stroke-width="1.2" stroke-linecap="butt" fill="none"/>
<path d="M434.5 875.4L440.5 875.4" stroke="#000" stroke-width="1.2" stroke-linecap="butt" fill="none"/>
<rect x="448.8" y="818.7" width="9.5" height="143.1" fill="#000"/>
<rect x="449.9" y="819.6" width="7.1" height="3.1" fill="#fff"/>
<rect x="449.9" y="828.2" width="7.1" height="3.1" fill="#fff"/>
<rect x="449.9" y="836.9" width="7.1" height="3.1" fill="#fff"/>
<rect x="449.9" y="845.5" width="7.1" height="3.1" fill="#fff"/>
<rect x="449.9" y="854.1" width="7.1" height="3.1" fill="#fff"/>
<rect x="449.9" y="862.8" width="7.1" height="3.1" fill="#fff"/>
<rect x="449.9" y="871.4" width="7.1" height="3.1" fill="#fff"/>
<rect x="449.9" y="880.0" width="7.1" height="3.1" fill="#fff"/>
<rect x="449.9" y="888.6" width="7.1" height="3.1" fill="#fff"/>
<rect x="449.9" y="897.3" width="7.1" height="3.1" fill="#fff"/>
<rect x="449.9" y="905.9" width="7.1" height="3.1" fill="#fff"/>
<rect x="449.9" y="914.5" width="7.1" height="3.1" fill="#fff"/>
<rect x="449.9" y="923.2" width="7.1" height="3.1" fill="#fff"/>
<rect x="449.9" y="931.8" width="7.1" height="3.1" fill="#fff"/>
<rect x="449.9" y="940.4" width="7.1" height="3.1" fill="#fff"/>
<rect x="449.9" y="949.1" width="7.1" height="3.1" fill="#fff"/>
<rect x="449.9" y="957.7" width="7.1" height="3.1" fill="#fff"/>
<rect x="448.8" y="818.7" width="9.5" height="143.1" fill="none" stroke="#000" stroke-width="1.1"/>
<path d="M453.5 803.9L453.5 832.7" stroke="#000" stroke-width="1.2" stroke-linecap="butt" fill="none"/>
<path d="M450.5 803.9L456.5 803.9" stroke="#000" stroke-width="1.2" stroke-linecap="butt" fill="none"/>
<path d="M450.5 832.7L456.5 832.7" stroke="#000" stroke-width="1.2" stroke-linecap="butt" fill="none"/>
<clipPath id="cf4"><rect x="464.9" y="889.8" width="9.5" height="72.0"/></clipPath>
<rect x="464.9" y="889.8" width="9.5" height="72.0" fill="#000"/>
<g clip-path="url(#cf4)">
<path d="M463.9 883.8L475.4 893.4" stroke="#fff" stroke-width="2.3"/>
<path d="M463.9 892.5L475.4 902.1" stroke="#fff" stroke-width="2.3"/>
<path d="M463.9 901.2L475.4 910.8" stroke="#fff" stroke-width="2.3"/>
<path d="M463.9 909.9L475.4 919.5" stroke="#fff" stroke-width="2.3"/>
<path d="M463.9 918.6L475.4 928.2" stroke="#fff" stroke-width="2.3"/>
<path d="M463.9 927.3L475.4 936.9" stroke="#fff" stroke-width="2.3"/>
<path d="M463.9 936.0L475.4 945.6" stroke="#fff" stroke-width="2.3"/>
<path d="M463.9 944.7L475.4 954.3" stroke="#fff" stroke-width="2.3"/>
<path d="M463.9 953.4L475.4 963.0" stroke="#fff" stroke-width="2.3"/>
</g>
<rect x="464.9" y="889.8" width="9.5" height="72.0" fill="none" stroke="#000" stroke-width="1.1"/>
<path d="M469.6 878.9L469.6 899.9" stroke="#000" stroke-width="1.2" stroke-linecap="butt" fill="none"/>
<path d="M466.6 878.9L472.6 878.9" stroke="#000" stroke-width="1.2" stroke-linecap="butt" fill="none"/>
<path d="M466.6 899.9L472.6 899.9" stroke="#000" stroke-width="1.2" stroke-linecap="butt" fill="none"/>
<rect x="480.6" y="884.1" width="9.5" height="77.7" fill="#a9a9ad"/>
<rect x="480.6" y="884.1" width="9.5" height="77.7" fill="none" stroke="#000" stroke-width="1.1"/>
<path d="M485.3 878.9L485.3 886.8" stroke="#000" stroke-width="1.2" stroke-linecap="butt" fill="none"/>
<path d="M482.3 878.9L488.3 878.9" stroke="#000" stroke-width="1.2" stroke-linecap="butt" fill="none"/>
<path d="M482.3 886.8L488.3 886.8" stroke="#000" stroke-width="1.2" stroke-linecap="butt" fill="none"/>
<rect x="496.4" y="906.6" width="9.5" height="55.2" fill="url(#chkg)"/>
<rect x="496.4" y="906.6" width="9.5" height="55.2" fill="none" stroke="#000" stroke-width="1.1"/>
<path d="M501.2 897.2L501.2 914.7" stroke="#000" stroke-width="1.2" stroke-linecap="butt" fill="none"/>
<path d="M498.2 897.2L504.2 897.2" stroke="#000" stroke-width="1.2" stroke-linecap="butt" fill="none"/>
<path d="M498.2 914.7L504.2 914.7" stroke="#000" stroke-width="1.2" stroke-linecap="butt" fill="none"/>
<rect x="512.5" y="873.5" width="9.5" height="88.3" fill="#a9a9ad"/>
<rect x="513.7" y="874.4" width="7.1" height="3.1" fill="#fff"/>
<rect x="513.7" y="883.0" width="7.1" height="3.1" fill="#fff"/>
<rect x="513.7" y="891.7" width="7.1" height="3.1" fill="#fff"/>
<rect x="513.7" y="900.3" width="7.1" height="3.1" fill="#fff"/>
<rect x="513.7" y="908.9" width="7.1" height="3.1" fill="#fff"/>
<rect x="513.7" y="917.6" width="7.1" height="3.1" fill="#fff"/>
<rect x="513.7" y="926.2" width="7.1" height="3.1" fill="#fff"/>
<rect x="513.7" y="934.8" width="7.1" height="3.1" fill="#fff"/>
<rect x="513.7" y="943.4" width="7.1" height="3.1" fill="#fff"/>
<rect x="513.7" y="952.1" width="7.1" height="3.1" fill="#fff"/>
<rect x="513.7" y="960.7" width="7.1" height="0.3" fill="#fff"/>
<rect x="512.5" y="873.5" width="9.5" height="88.3" fill="none" stroke="#000" stroke-width="1.1"/>
<path d="M517.2 861.5L517.2 884.1" stroke="#000" stroke-width="1.2" stroke-linecap="butt" fill="none"/>
<path d="M514.2 861.5L520.2 861.5" stroke="#000" stroke-width="1.2" stroke-linecap="butt" fill="none"/>
<path d="M514.2 884.1L520.2 884.1" stroke="#000" stroke-width="1.2" stroke-linecap="butt" fill="none"/>
<clipPath id="cf8"><rect x="528.1" y="885.7" width="9.5" height="76.1"/></clipPath>
<rect x="528.1" y="885.7" width="9.5" height="76.1" fill="#a9a9ad"/>
<g clip-path="url(#cf8)">
<path d="M527.1 879.7L538.6 889.3" stroke="#fff" stroke-width="2.3"/>
<path d="M527.1 888.4L538.6 898.0" stroke="#fff" stroke-width="2.3"/>
<path d="M527.1 897.1L538.6 906.7" stroke="#fff" stroke-width="2.3"/>
<path d="M527.1 905.8L538.6 915.4" stroke="#fff" stroke-width="2.3"/>
<path d="M527.1 914.5L538.6 924.1" stroke="#fff" stroke-width="2.3"/>
<path d="M527.1 923.2L538.6 932.8" stroke="#fff" stroke-width="2.3"/>
<path d="M527.1 931.9L538.6 941.5" stroke="#fff" stroke-width="2.3"/>
<path d="M527.1 940.6L538.6 950.2" stroke="#fff" stroke-width="2.3"/>
<path d="M527.1 949.3L538.6 958.9" stroke="#fff" stroke-width="2.3"/>
<path d="M527.1 958.0L538.6 967.6" stroke="#fff" stroke-width="2.3"/>
</g>
<rect x="528.1" y="885.7" width="9.5" height="76.1" fill="none" stroke="#000" stroke-width="1.1"/>
<path d="M532.9 878.9L532.9 891.1" stroke="#000" stroke-width="1.2" stroke-linecap="butt" fill="none"/>
<path d="M529.9 878.9L535.9 878.9" stroke="#000" stroke-width="1.2" stroke-linecap="butt" fill="none"/>
<path d="M529.9 891.1L535.9 891.1" stroke="#000" stroke-width="1.2" stroke-linecap="butt" fill="none"/>
<path d="M387.6 962.0L543.2 962.0" stroke="#000" stroke-width="1.9" stroke-linecap="butt" fill="none"/>
<circle cx="403.1" cy="790.8" r="2.1" fill="#ff3314"/>
<circle cx="409.1" cy="788.3" r="2.1" fill="#ff3314"/>
<circle cx="406.1" cy="798" r="2.1" fill="#ff3314"/>
<circle cx="406.1" cy="818.3" r="2.1" fill="#ff3314"/>
<circle cx="409.1" cy="830.5" r="2.1" fill="#ff3314"/>
<circle cx="403.1" cy="834.6" r="2.1" fill="#ff3314"/>
<circle cx="421.7" cy="882.4" r="2.1" fill="#ff3314"/>
<circle cx="424.7" cy="888.6" r="2.1" fill="#ff3314"/>
<circle cx="419" cy="891.6" r="2.1" fill="#ff3314"/>
<circle cx="437.6" cy="851" r="2.1" fill="#ff3314"/>
<circle cx="437.6" cy="871.1" r="2.1" fill="#ff3314"/>
<circle cx="437.6" cy="877.8" r="2.1" fill="#ff3314"/>
<circle cx="453.5" cy="796.5" r="2.1" fill="#ff3314"/>
<circle cx="453.5" cy="813.6" r="2.1" fill="#ff3314"/>
<circle cx="453.5" cy="844.5" r="2.1" fill="#ff3314"/>
<circle cx="469.4" cy="869.2" r="2.1" fill="#ff3314"/>
<circle cx="469.4" cy="895.8" r="2.1" fill="#ff3314"/>
<circle cx="469.4" cy="902" r="2.1" fill="#ff3314"/>
<circle cx="485" cy="868.8" r="2.1" fill="#ff3314"/>
<circle cx="488" cy="882.4" r="2.1" fill="#ff3314"/>
<circle cx="482" cy="884.2" r="2.1" fill="#ff3314"/>
<circle cx="488" cy="887.9" r="2.1" fill="#ff3314"/>
<circle cx="485" cy="895.8" r="2.1" fill="#ff3314"/>
<circle cx="500.9" cy="896.8" r="2.1" fill="#ff3314"/>
<circle cx="500.9" cy="914.5" r="2.1" fill="#ff3314"/>
<circle cx="517" cy="861.3" r="2.1" fill="#ff3314"/>
<circle cx="517" cy="883.7" r="2.1" fill="#ff3314"/>
<circle cx="532.7" cy="878.5" r="2.1" fill="#ff3314"/>
<circle cx="532.7" cy="891.1" r="2.1" fill="#ff3314"/>
<path d="M403.9 715.4V710.1H485.1V715.4" stroke="#000" stroke-width="1.25" fill="none" stroke-linejoin="miter"/>
<text x="445.5" y="705.8" font-size="7.95" text-anchor="middle">p=&lt;0.0001</text>
<path d="M403.9 730.9V725.6H469.4V730.9" stroke="#000" stroke-width="1.25" fill="none" stroke-linejoin="miter"/>
<text x="439.5" y="721.2" font-size="7.95" text-anchor="middle">p=&lt;0.0001</text>
<path d="M403.9 745.7V740.4H453.6V745.7" stroke="#000" stroke-width="1.25" fill="none" stroke-linejoin="miter"/>
<text x="430.1" y="736.3" font-size="7.95" text-anchor="middle">p=0.9953</text>
<path d="M403.9 763.5V758.2H438.1V763.5" stroke="#000" stroke-width="1.25" fill="none" stroke-linejoin="miter"/>
<text x="419.6" y="753.8" font-size="7.95" text-anchor="middle">p=0.0006</text>
<path d="M403.9 780.3V775.0H422.3V780.3" stroke="#000" stroke-width="1.25" fill="none" stroke-linejoin="miter"/>
<text x="416.0" y="770.6" font-size="7.95" text-anchor="middle">p=&lt;0.0001</text>
<path d="M485.1 818.9V813.6H532.8V818.9" stroke="#000" stroke-width="1.25" fill="none" stroke-linejoin="miter"/>
<text x="510.0" y="807.5" font-size="7.95" text-anchor="middle">p=&gt;0.9999</text>
<path d="M485.1 837.0V831.7H517.0V837.0" stroke="#000" stroke-width="1.25" fill="none" stroke-linejoin="miter"/>
<text x="500.4" y="827.7" font-size="7.95" text-anchor="middle">p=0.9869</text>
<path d="M485.1 852.5V847.2H501.9V852.5" stroke="#000" stroke-width="1.25" fill="none" stroke-linejoin="miter"/>
<text x="495.1" y="843.8" font-size="7.95" text-anchor="middle">p=0.6244</text>
<rect x="561.6" y="755.4" width="120.9" height="163.8" fill="#fff" stroke="#000" stroke-width="1.2"/>
<rect x="565.6" y="761.7" width="10.8" height="10" fill="#000"/>
<rect x="565.6" y="761.7" width="10.8" height="10" fill="none" stroke="#1c2a55" stroke-width="1"/>
<text x="579.2" y="770.6" font-size="10.3">siControl</text>
<rect x="565.6" y="779.4" width="10.8" height="10" fill="#fff"/>
<rect x="565.6" y="779.4" width="10.8" height="10" fill="none" stroke="#1c2a55" stroke-width="1"/>
<text x="579.2" y="788.3" font-size="10.3">siNBS1</text>
<rect x="565.6" y="797.0" width="10.8" height="10" fill="url(#chkL)"/>
<rect x="565.6" y="797.0" width="10.8" height="10" fill="none" stroke="#1c2a55" stroke-width="1"/>
<text x="579.2" y="805.9" font-size="10.3">siACTG1</text>
<rect x="565.6" y="814.7" width="10.8" height="10" fill="#fff"/>
<rect x="565.6" y="816.3" width="10.8" height="2.4" fill="#000"/>
<rect x="565.6" y="820.7" width="10.8" height="2.4" fill="#000"/>
<rect x="565.6" y="814.7" width="10.8" height="10" fill="none" stroke="#1c2a55" stroke-width="1"/>
<text x="579.2" y="823.6" font-size="10.3">siACTB</text>
<rect x="565.6" y="832.4" width="10.8" height="10" fill="#fff"/>
<path d="M565.6 832.4h2.6L576.4 839.8v2.6h-2.6L565.6 835.0z" fill="#000"/>
<rect x="565.6" y="832.4" width="10.8" height="10" fill="none" stroke="#1c2a55" stroke-width="1"/>
<text x="579.2" y="841.3" font-size="10.3">siARPC4</text>
<rect x="565.6" y="850.1" width="10.8" height="10" fill="#a9a9ad"/>
<rect x="565.6" y="850.1" width="10.8" height="10" fill="none" stroke="#1c2a55" stroke-width="1"/>
<text x="579.2" y="859.0" font-size="10.3">siDIAPH1</text>
<rect x="565.6" y="867.7" width="10.8" height="10" fill="url(#chkgL)"/>
<rect x="565.6" y="867.7" width="10.8" height="10" fill="none" stroke="#1c2a55" stroke-width="1"/>
<text x="579.2" y="876.6" font-size="10.3">siACTG1 + siDIAPH1</text>
<rect x="565.6" y="885.4" width="10.8" height="10" fill="#fff"/>
<rect x="565.6" y="888.6" width="10.8" height="3.4" fill="#b4b4b8"/>
<rect x="565.6" y="885.4" width="10.8" height="10" fill="none" stroke="#1c2a55" stroke-width="1"/>
<text x="579.2" y="894.3" font-size="10.3">siACTB + siDIAPH1</text>
<rect x="565.6" y="903.1" width="10.8" height="10" fill="#fff"/>
<path d="M565.6 913.1V905.1L574.4 913.1z" fill="#b4b4b8"/>
<rect x="565.6" y="903.1" width="10.8" height="10" fill="none" stroke="#1c2a55" stroke-width="1"/>
<text x="579.2" y="912.0" font-size="10.3">siARPC4 + siDIAPH1</text>
</svg>
</body></html>
